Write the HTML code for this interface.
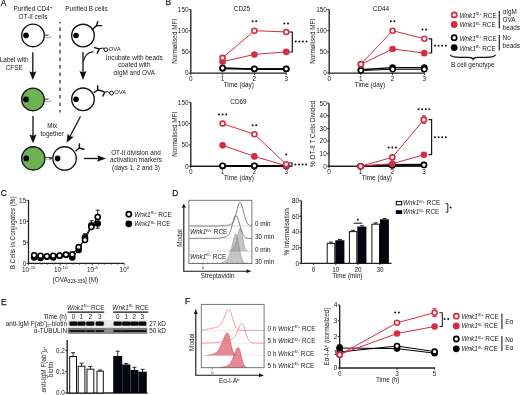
<!DOCTYPE html>
<html><head><meta charset="utf-8"><style>
html,body{margin:0;padding:0;background:#fff;}
svg{display:block;font-family:"Liberation Sans",sans-serif;will-change:transform;}
</style></head><body>
<svg width="520" height="395" viewBox="0 0 520 395">
<rect width="520" height="395" fill="#fff"/>
<text x="0.70" y="5.50" font-size="8.4" text-anchor="start" fill="#1a1a1a" stroke="#1a1a1a" stroke-width="0.25">A</text>
<text x="33" y="11.2" font-size="6.4" text-anchor="middle" fill="#1a1a1a">Purified CD4<tspan font-size="4.6" dy="-2.4">+</tspan></text>
<text x="33.00" y="18.80" font-size="6.4" text-anchor="middle" fill="#1a1a1a" >OT-II cells</text>
<text x="86.50" y="11.20" font-size="6.4" text-anchor="middle" fill="#1a1a1a" >Purified B cells</text>
<line x1="60.00" y1="22.00" x2="60.00" y2="112.60" stroke="#444" stroke-width="1.4" stroke-dasharray="3.6,3.9" stroke-dashoffset="2.0"/>
<circle cx="33.00" cy="35.40" r="11.30" fill="#fff" stroke="#111" stroke-width="1.35"/>
<circle cx="26.00" cy="35.40" r="2.80" fill="#000" stroke="none" stroke-width="1"/>
<line x1="44.40" y1="35.20" x2="48.60" y2="35.20" stroke="#111" stroke-width="0.9" />
<path d="M45.20,37.60 Q48.50,38.40 51.60,36.70" fill="none" stroke="#888" stroke-width="0.8" />
<circle cx="83.00" cy="35.50" r="11.30" fill="#fff" stroke="#111" stroke-width="1.35"/>
<circle cx="76.00" cy="35.50" r="2.80" fill="#000" stroke="none" stroke-width="1"/>
<polyline points="93.10,28.70 96.60,25.60 97.70,21.60" fill="none" stroke="#111" stroke-width="1.45" stroke-linejoin="round" stroke-linecap="round"/>
<polyline points="96.60,25.60 101.70,25.60" fill="none" stroke="#111" stroke-width="1.45" stroke-linejoin="round" stroke-linecap="round"/>
<polyline points="94.60,47.60 99.20,48.90 97.20,53.30" fill="none" stroke="#111" stroke-width="1.45" stroke-linejoin="round" stroke-linecap="round"/>
<polyline points="99.20,48.90 103.20,47.90 104.00,48.80" fill="none" stroke="#111" stroke-width="1.0" stroke-linejoin="round" stroke-linecap="round"/>
<circle cx="105.90" cy="49.70" r="1.90" fill="#fff" stroke="#111" stroke-width="1.0"/>
<text x="108.70" y="50.60" font-size="5.8" text-anchor="start" fill="#1a1a1a" >OVA</text>
<path d="M93.3,51.6 Q84.6,53.0 83.4,61.5" fill="none" stroke="#111" stroke-width="1.2" />
<line x1="32.80" y1="52.30" x2="32.80" y2="73.20" stroke="#111" stroke-width="1.3" />
<path d="M29.25,71.20 Q32.80,73.40 36.35,71.20 L32.80,80.00 Z" fill="#111" stroke="none" stroke-width="1" />
<line x1="83.00" y1="52.10" x2="83.00" y2="73.10" stroke="#111" stroke-width="1.3" />
<path d="M79.45,71.10 Q83.00,73.30 86.55,71.10 L83.00,79.90 Z" fill="#111" stroke="none" stroke-width="1" />
<text x="14.20" y="62.40" font-size="6.4" text-anchor="middle" fill="#1a1a1a" >Label with</text>
<text x="14.20" y="70.40" font-size="6.4" text-anchor="middle" fill="#1a1a1a" >CFSE</text>
<text x="134.30" y="59.50" font-size="6.4" text-anchor="middle" fill="#1a1a1a" >Incubate with beads</text>
<text x="134.30" y="67.00" font-size="6.4" text-anchor="middle" fill="#1a1a1a" >coated with</text>
<text x="134.30" y="74.90" font-size="6.4" text-anchor="middle" fill="#1a1a1a" >αIgM and OVA</text>
<circle cx="33.00" cy="99.40" r="11.30" fill="#6cb152" stroke="#111" stroke-width="1.35"/>
<circle cx="26.00" cy="99.40" r="2.80" fill="#000" stroke="none" stroke-width="1"/>
<line x1="44.40" y1="99.20" x2="48.60" y2="99.20" stroke="#111" stroke-width="0.9" />
<path d="M45.20,101.60 Q48.50,102.40 51.60,100.70" fill="none" stroke="#888" stroke-width="0.8" />
<circle cx="83.00" cy="99.30" r="11.30" fill="#fff" stroke="#111" stroke-width="1.35"/>
<circle cx="76.00" cy="99.30" r="2.80" fill="#000" stroke="none" stroke-width="1"/>
<polyline points="94.20,92.30 97.70,90.00 97.70,85.80" fill="none" stroke="#111" stroke-width="1.45" stroke-linejoin="round" stroke-linecap="round"/>
<polyline points="97.70,90.00 102.30,91.00 104.60,92.30 103.00,96.00" fill="none" stroke="#111" stroke-width="1.45" stroke-linejoin="round" stroke-linecap="round"/>
<polyline points="104.60,92.30 107.40,91.60 109.60,92.80" fill="none" stroke="#111" stroke-width="1.0" stroke-linejoin="round" stroke-linecap="round"/>
<circle cx="111.50" cy="93.10" r="1.90" fill="#fff" stroke="#111" stroke-width="1.0"/>
<text x="114.20" y="94.30" font-size="5.8" text-anchor="start" fill="#1a1a1a" >OVA</text>
<line x1="33.00" y1="116.00" x2="33.00" y2="136.40" stroke="#111" stroke-width="1.3" />
<path d="M29.45,134.40 Q33.00,136.60 36.55,134.40 L33.00,143.20 Z" fill="#111" stroke="none" stroke-width="1" />
<line x1="80.50" y1="116.50" x2="69.78" y2="136.79" stroke="#111" stroke-width="1.25" />
<path d="M67.62,133.38 Q69.68,136.96 73.81,136.66 L66.60,142.80 Z" fill="#111" stroke="none" stroke-width="1" />
<text x="52.30" y="128.40" font-size="6.4" text-anchor="middle" fill="#1a1a1a" >Mix</text>
<text x="52.30" y="136.40" font-size="6.4" text-anchor="middle" fill="#1a1a1a" >together</text>
<circle cx="33.30" cy="158.40" r="11.60" fill="#6cb152" stroke="#111" stroke-width="1.35"/>
<circle cx="26.30" cy="158.40" r="2.80" fill="#000" stroke="none" stroke-width="1"/>
<circle cx="64.60" cy="158.40" r="11.70" fill="#fff" stroke="#111" stroke-width="1.35"/>
<circle cx="57.60" cy="158.40" r="2.80" fill="#000" stroke="none" stroke-width="1"/>
<line x1="44.80" y1="157.40" x2="53.00" y2="157.40" stroke="#333" stroke-width="0.9" />
<line x1="45.00" y1="159.20" x2="53.00" y2="159.20" stroke="#999" stroke-width="0.7" />
<circle cx="50.60" cy="158.20" r="1.20" fill="#444" stroke="none" stroke-width="1"/>
<polyline points="76.00,150.80 79.20,148.00 79.50,144.00" fill="none" stroke="#111" stroke-width="1.45" stroke-linejoin="round" stroke-linecap="round"/>
<polyline points="79.20,148.00 83.80,149.20" fill="none" stroke="#111" stroke-width="1.45" stroke-linejoin="round" stroke-linecap="round"/>
<line x1="83.80" y1="158.50" x2="99.00" y2="158.50" stroke="#111" stroke-width="1.3" />
<path d="M97.00,155.30 Q99.20,158.50 97.00,161.70 L106.00,158.50 Z" fill="#111" stroke="none" stroke-width="1" />
<text x="136.00" y="154.90" font-size="6.4" text-anchor="middle" fill="#1a1a1a" >OT-II division and</text>
<text x="136.00" y="162.40" font-size="6.4" text-anchor="middle" fill="#1a1a1a" >activation markers</text>
<text x="136.00" y="170.10" font-size="6.4" text-anchor="middle" fill="#1a1a1a" >(days 1, 2 and 3)</text>
<text x="165.60" y="5.20" font-size="8.4" text-anchor="start" fill="#1a1a1a" stroke="#1a1a1a" stroke-width="0.25">B</text>
<line x1="190.80" y1="73.10" x2="190.80" y2="9.50" stroke="#222" stroke-width="1.35" />
<line x1="188.80" y1="73.10" x2="190.80" y2="73.10" stroke="#222" stroke-width="0.9" />
<text x="188.50" y="75.40" font-size="6.4" text-anchor="end" fill="#1a1a1a" >0</text>
<line x1="188.80" y1="51.90" x2="190.80" y2="51.90" stroke="#222" stroke-width="0.9" />
<text x="188.50" y="54.20" font-size="6.4" text-anchor="end" fill="#1a1a1a" >50</text>
<line x1="188.80" y1="30.70" x2="190.80" y2="30.70" stroke="#222" stroke-width="0.9" />
<text x="188.50" y="33.00" font-size="6.4" text-anchor="end" fill="#1a1a1a" >100</text>
<line x1="188.80" y1="9.50" x2="190.80" y2="9.50" stroke="#222" stroke-width="0.9" />
<text x="188.50" y="11.80" font-size="6.4" text-anchor="end" fill="#1a1a1a" >150</text>
<line x1="190.20" y1="73.10" x2="286.70" y2="73.10" stroke="#222" stroke-width="1.35" />
<line x1="190.80" y1="73.10" x2="190.80" y2="75.10" stroke="#222" stroke-width="0.9" />
<text x="190.80" y="80.80" font-size="6.4" text-anchor="middle" fill="#1a1a1a" >0</text>
<line x1="222.60" y1="73.10" x2="222.60" y2="75.10" stroke="#222" stroke-width="0.9" />
<text x="222.60" y="80.80" font-size="6.4" text-anchor="middle" fill="#1a1a1a" >1</text>
<line x1="254.40" y1="73.10" x2="254.40" y2="75.10" stroke="#222" stroke-width="0.9" />
<text x="254.40" y="80.80" font-size="6.4" text-anchor="middle" fill="#1a1a1a" >2</text>
<line x1="286.20" y1="73.10" x2="286.20" y2="75.10" stroke="#222" stroke-width="0.9" />
<text x="286.20" y="80.80" font-size="6.4" text-anchor="middle" fill="#1a1a1a" >3</text>
<text x="242.00" y="11.00" font-size="6.4" text-anchor="middle" fill="#1a1a1a" >CD25</text>
<text x="238.80" y="86.90" font-size="6.4" text-anchor="middle" fill="#1a1a1a" >Time (day)</text>
<text transform="translate(176.80,41.30) rotate(-90)" x="0" y="0" font-size="6.4" text-anchor="middle" fill="#1a1a1a">Normalised MFI</text>
<polyline points="222.60,68.44 254.40,69.07 286.20,69.07" fill="none" stroke="#000" stroke-width="1.8" stroke-linejoin="round" />
<polyline points="222.60,68.01 254.40,68.86 286.20,68.86" fill="none" stroke="#000" stroke-width="1.0" stroke-linejoin="round" />
<polyline points="222.60,61.65 254.40,54.44 286.20,51.90" fill="none" stroke="#d52c44" stroke-width="1.0" stroke-linejoin="round" />
<polyline points="222.60,57.84 254.40,30.70 286.20,31.97" fill="none" stroke="#d52c44" stroke-width="1.0" stroke-linejoin="round" />
<circle cx="222.60" cy="68.44" r="3.30" fill="#000" stroke="none" stroke-width="1"/>
<circle cx="254.40" cy="69.07" r="3.30" fill="#000" stroke="none" stroke-width="1"/>
<circle cx="286.20" cy="69.07" r="3.30" fill="#000" stroke="none" stroke-width="1"/>
<circle cx="222.60" cy="68.01" r="2.50" fill="#fff" stroke="#000" stroke-width="1.6"/>
<circle cx="254.40" cy="68.86" r="2.50" fill="#fff" stroke="#000" stroke-width="1.6"/>
<circle cx="286.20" cy="68.86" r="2.50" fill="#fff" stroke="#000" stroke-width="1.6"/>
<circle cx="222.60" cy="61.65" r="3.30" fill="#d52c44" stroke="none" stroke-width="1"/>
<circle cx="254.40" cy="54.44" r="3.30" fill="#d52c44" stroke="none" stroke-width="1"/>
<circle cx="286.20" cy="51.90" r="3.30" fill="#d52c44" stroke="none" stroke-width="1"/>
<circle cx="222.60" cy="57.84" r="2.50" fill="#fff" stroke="#d52c44" stroke-width="1.6"/>
<circle cx="254.40" cy="30.70" r="2.50" fill="#fff" stroke="#d52c44" stroke-width="1.6"/>
<circle cx="286.20" cy="31.97" r="2.50" fill="#fff" stroke="#d52c44" stroke-width="1.6"/>
<circle cx="252.60" cy="21.20" r="1.00" fill="#111" stroke="none" stroke-width="1"/>
<circle cx="256.20" cy="21.20" r="1.00" fill="#111" stroke="none" stroke-width="1"/>
<circle cx="284.40" cy="23.60" r="1.00" fill="#111" stroke="none" stroke-width="1"/>
<circle cx="288.00" cy="23.60" r="1.00" fill="#111" stroke="none" stroke-width="1"/>
<path d="M289.30,32.00 H292.30 V52.00 H289.30" fill="none" stroke="#151515" stroke-width="1.2" />
<circle cx="295.70" cy="41.60" r="1.00" fill="#111" stroke="none" stroke-width="1"/>
<circle cx="299.30" cy="41.60" r="1.00" fill="#111" stroke="none" stroke-width="1"/>
<circle cx="302.90" cy="41.60" r="1.00" fill="#111" stroke="none" stroke-width="1"/>
<circle cx="306.50" cy="41.60" r="1.00" fill="#111" stroke="none" stroke-width="1"/>
<line x1="329.20" y1="73.10" x2="329.20" y2="9.50" stroke="#222" stroke-width="1.35" />
<line x1="327.20" y1="73.10" x2="329.20" y2="73.10" stroke="#222" stroke-width="0.9" />
<text x="326.90" y="75.40" font-size="6.4" text-anchor="end" fill="#1a1a1a" >0</text>
<line x1="327.20" y1="51.90" x2="329.20" y2="51.90" stroke="#222" stroke-width="0.9" />
<text x="326.90" y="54.20" font-size="6.4" text-anchor="end" fill="#1a1a1a" >50</text>
<line x1="327.20" y1="30.70" x2="329.20" y2="30.70" stroke="#222" stroke-width="0.9" />
<text x="326.90" y="33.00" font-size="6.4" text-anchor="end" fill="#1a1a1a" >100</text>
<line x1="327.20" y1="9.50" x2="329.20" y2="9.50" stroke="#222" stroke-width="0.9" />
<text x="326.90" y="11.80" font-size="6.4" text-anchor="end" fill="#1a1a1a" >150</text>
<line x1="328.60" y1="73.10" x2="424.80" y2="73.10" stroke="#222" stroke-width="1.35" />
<line x1="329.20" y1="73.10" x2="329.20" y2="75.10" stroke="#222" stroke-width="0.9" />
<text x="329.20" y="80.80" font-size="6.4" text-anchor="middle" fill="#1a1a1a" >0</text>
<line x1="360.90" y1="73.10" x2="360.90" y2="75.10" stroke="#222" stroke-width="0.9" />
<text x="360.90" y="80.80" font-size="6.4" text-anchor="middle" fill="#1a1a1a" >1</text>
<line x1="392.60" y1="73.10" x2="392.60" y2="75.10" stroke="#222" stroke-width="0.9" />
<text x="392.60" y="80.80" font-size="6.4" text-anchor="middle" fill="#1a1a1a" >2</text>
<line x1="424.30" y1="73.10" x2="424.30" y2="75.10" stroke="#222" stroke-width="0.9" />
<text x="424.30" y="80.80" font-size="6.4" text-anchor="middle" fill="#1a1a1a" >3</text>
<text x="381.00" y="11.00" font-size="6.4" text-anchor="middle" fill="#1a1a1a" >CD44</text>
<text x="369.90" y="86.90" font-size="6.4" text-anchor="middle" fill="#1a1a1a" >Time (day)</text>
<text transform="translate(314.60,41.30) rotate(-90)" x="0" y="0" font-size="6.4" text-anchor="middle" fill="#1a1a1a">Normalised MFI</text>
<polyline points="360.90,69.71 392.60,67.59 424.30,67.59" fill="none" stroke="#000" stroke-width="1.4" stroke-linejoin="round" />
<polyline points="360.90,70.56 392.60,69.28 424.30,69.28" fill="none" stroke="#000" stroke-width="1.0" stroke-linejoin="round" />
<polyline points="360.90,64.41 392.60,48.93 424.30,53.17" fill="none" stroke="#d52c44" stroke-width="1.0" stroke-linejoin="round" />
<polyline points="360.90,64.20 392.60,30.70 424.30,38.76" fill="none" stroke="#d52c44" stroke-width="1.0" stroke-linejoin="round" />
<circle cx="360.90" cy="69.71" r="3.30" fill="#000" stroke="none" stroke-width="1"/>
<circle cx="392.60" cy="67.59" r="3.30" fill="#000" stroke="none" stroke-width="1"/>
<circle cx="424.30" cy="67.59" r="3.30" fill="#000" stroke="none" stroke-width="1"/>
<circle cx="360.90" cy="70.56" r="2.50" fill="#fff" stroke="#000" stroke-width="1.6"/>
<circle cx="392.60" cy="69.28" r="2.50" fill="#fff" stroke="#000" stroke-width="1.6"/>
<circle cx="424.30" cy="69.28" r="2.50" fill="#fff" stroke="#000" stroke-width="1.6"/>
<circle cx="360.90" cy="64.41" r="3.30" fill="#d52c44" stroke="none" stroke-width="1"/>
<circle cx="392.60" cy="48.93" r="3.30" fill="#d52c44" stroke="none" stroke-width="1"/>
<circle cx="424.30" cy="53.17" r="3.30" fill="#d52c44" stroke="none" stroke-width="1"/>
<circle cx="360.90" cy="64.20" r="2.50" fill="#fff" stroke="#d52c44" stroke-width="1.6"/>
<circle cx="392.60" cy="30.70" r="2.50" fill="#fff" stroke="#d52c44" stroke-width="1.6"/>
<circle cx="424.30" cy="38.76" r="2.50" fill="#fff" stroke="#d52c44" stroke-width="1.6"/>
<circle cx="390.80" cy="21.20" r="1.00" fill="#111" stroke="none" stroke-width="1"/>
<circle cx="394.40" cy="21.20" r="1.00" fill="#111" stroke="none" stroke-width="1"/>
<circle cx="422.50" cy="29.40" r="1.00" fill="#111" stroke="none" stroke-width="1"/>
<circle cx="426.10" cy="29.40" r="1.00" fill="#111" stroke="none" stroke-width="1"/>
<path d="M428.60,38.80 H431.60 V53.00 H428.60" fill="none" stroke="#151515" stroke-width="1.2" />
<circle cx="435.00" cy="45.80" r="1.00" fill="#111" stroke="none" stroke-width="1"/>
<circle cx="438.60" cy="45.80" r="1.00" fill="#111" stroke="none" stroke-width="1"/>
<circle cx="442.20" cy="45.80" r="1.00" fill="#111" stroke="none" stroke-width="1"/>
<circle cx="445.80" cy="45.80" r="1.00" fill="#111" stroke="none" stroke-width="1"/>
<line x1="190.80" y1="166.20" x2="190.80" y2="102.30" stroke="#222" stroke-width="1.35" />
<line x1="188.80" y1="166.20" x2="190.80" y2="166.20" stroke="#222" stroke-width="0.9" />
<text x="188.50" y="168.50" font-size="6.4" text-anchor="end" fill="#1a1a1a" >0</text>
<line x1="188.80" y1="144.90" x2="190.80" y2="144.90" stroke="#222" stroke-width="0.9" />
<text x="188.50" y="147.20" font-size="6.4" text-anchor="end" fill="#1a1a1a" >50</text>
<line x1="188.80" y1="123.60" x2="190.80" y2="123.60" stroke="#222" stroke-width="0.9" />
<text x="188.50" y="125.90" font-size="6.4" text-anchor="end" fill="#1a1a1a" >100</text>
<line x1="188.80" y1="102.30" x2="190.80" y2="102.30" stroke="#222" stroke-width="0.9" />
<text x="188.50" y="104.60" font-size="6.4" text-anchor="end" fill="#1a1a1a" >150</text>
<line x1="190.20" y1="166.20" x2="286.70" y2="166.20" stroke="#222" stroke-width="1.35" />
<line x1="190.80" y1="166.20" x2="190.80" y2="168.20" stroke="#222" stroke-width="0.9" />
<text x="190.80" y="173.90" font-size="6.4" text-anchor="middle" fill="#1a1a1a" >0</text>
<line x1="222.60" y1="166.20" x2="222.60" y2="168.20" stroke="#222" stroke-width="0.9" />
<text x="222.60" y="173.90" font-size="6.4" text-anchor="middle" fill="#1a1a1a" >1</text>
<line x1="254.40" y1="166.20" x2="254.40" y2="168.20" stroke="#222" stroke-width="0.9" />
<text x="254.40" y="173.90" font-size="6.4" text-anchor="middle" fill="#1a1a1a" >2</text>
<line x1="286.20" y1="166.20" x2="286.20" y2="168.20" stroke="#222" stroke-width="0.9" />
<text x="286.20" y="173.90" font-size="6.4" text-anchor="middle" fill="#1a1a1a" >3</text>
<text x="238.50" y="104.00" font-size="6.4" text-anchor="middle" fill="#1a1a1a" >CD69</text>
<text x="238.80" y="180.00" font-size="6.4" text-anchor="middle" fill="#1a1a1a" >Time (day)</text>
<text transform="translate(176.80,134.25) rotate(-90)" x="0" y="0" font-size="6.4" text-anchor="middle" fill="#1a1a1a">Normalised MFI</text>
<polyline points="222.60,165.99 254.40,165.99 286.20,166.07" fill="none" stroke="#000" stroke-width="1.8" stroke-linejoin="round" />
<polyline points="222.60,165.77 254.40,165.77 286.20,165.99" fill="none" stroke="#000" stroke-width="1.0" stroke-linejoin="round" />
<polyline points="222.60,145.33 254.40,156.40 286.20,165.77" fill="none" stroke="#d52c44" stroke-width="1.0" stroke-linejoin="round" />
<polyline points="222.60,123.60 254.40,134.25 286.20,164.28" fill="none" stroke="#d52c44" stroke-width="1.0" stroke-linejoin="round" />
<circle cx="222.60" cy="165.99" r="3.30" fill="#000" stroke="none" stroke-width="1"/>
<circle cx="254.40" cy="165.99" r="3.30" fill="#000" stroke="none" stroke-width="1"/>
<circle cx="286.20" cy="166.07" r="3.30" fill="#000" stroke="none" stroke-width="1"/>
<circle cx="222.60" cy="165.77" r="2.50" fill="#fff" stroke="#000" stroke-width="1.6"/>
<circle cx="254.40" cy="165.77" r="2.50" fill="#fff" stroke="#000" stroke-width="1.6"/>
<circle cx="286.20" cy="165.99" r="2.50" fill="#fff" stroke="#000" stroke-width="1.6"/>
<circle cx="222.60" cy="145.33" r="3.30" fill="#d52c44" stroke="none" stroke-width="1"/>
<circle cx="254.40" cy="156.40" r="3.30" fill="#d52c44" stroke="none" stroke-width="1"/>
<circle cx="286.20" cy="165.77" r="3.30" fill="#d52c44" stroke="none" stroke-width="1"/>
<circle cx="222.60" cy="123.60" r="2.50" fill="#fff" stroke="#d52c44" stroke-width="1.6"/>
<circle cx="254.40" cy="134.25" r="2.50" fill="#fff" stroke="#d52c44" stroke-width="1.6"/>
<circle cx="286.20" cy="164.28" r="2.50" fill="#fff" stroke="#d52c44" stroke-width="1.6"/>
<circle cx="219.00" cy="114.40" r="1.00" fill="#111" stroke="none" stroke-width="1"/>
<circle cx="222.60" cy="114.40" r="1.00" fill="#111" stroke="none" stroke-width="1"/>
<circle cx="226.20" cy="114.40" r="1.00" fill="#111" stroke="none" stroke-width="1"/>
<circle cx="252.60" cy="125.20" r="1.00" fill="#111" stroke="none" stroke-width="1"/>
<circle cx="256.20" cy="125.20" r="1.00" fill="#111" stroke="none" stroke-width="1"/>
<circle cx="286.20" cy="154.50" r="1.00" fill="#111" stroke="none" stroke-width="1"/>
<path d="M289.00,163.00 H292.00 V166.20 H289.00" fill="none" stroke="#151515" stroke-width="1.2" />
<circle cx="295.40" cy="164.60" r="1.00" fill="#111" stroke="none" stroke-width="1"/>
<circle cx="299.00" cy="164.60" r="1.00" fill="#111" stroke="none" stroke-width="1"/>
<circle cx="302.60" cy="164.60" r="1.00" fill="#111" stroke="none" stroke-width="1"/>
<circle cx="306.20" cy="164.60" r="1.00" fill="#111" stroke="none" stroke-width="1"/>
<line x1="329.00" y1="166.20" x2="329.00" y2="103.20" stroke="#222" stroke-width="1.35" />
<line x1="327.00" y1="166.20" x2="329.00" y2="166.20" stroke="#222" stroke-width="0.9" />
<text x="326.70" y="168.50" font-size="6.4" text-anchor="end" fill="#1a1a1a" >0</text>
<line x1="327.00" y1="153.60" x2="329.00" y2="153.60" stroke="#222" stroke-width="0.9" />
<text x="326.70" y="155.90" font-size="6.4" text-anchor="end" fill="#1a1a1a" >10</text>
<line x1="327.00" y1="141.00" x2="329.00" y2="141.00" stroke="#222" stroke-width="0.9" />
<text x="326.70" y="143.30" font-size="6.4" text-anchor="end" fill="#1a1a1a" >20</text>
<line x1="327.00" y1="128.40" x2="329.00" y2="128.40" stroke="#222" stroke-width="0.9" />
<text x="326.70" y="130.70" font-size="6.4" text-anchor="end" fill="#1a1a1a" >30</text>
<line x1="327.00" y1="115.80" x2="329.00" y2="115.80" stroke="#222" stroke-width="0.9" />
<text x="326.70" y="118.10" font-size="6.4" text-anchor="end" fill="#1a1a1a" >40</text>
<line x1="327.00" y1="103.20" x2="329.00" y2="103.20" stroke="#222" stroke-width="0.9" />
<text x="326.70" y="105.50" font-size="6.4" text-anchor="end" fill="#1a1a1a" >50</text>
<line x1="328.40" y1="166.20" x2="424.45" y2="166.20" stroke="#222" stroke-width="1.35" />
<line x1="329.00" y1="166.20" x2="329.00" y2="168.20" stroke="#222" stroke-width="0.9" />
<text x="329.00" y="173.90" font-size="6.4" text-anchor="middle" fill="#1a1a1a" >0</text>
<line x1="360.65" y1="166.20" x2="360.65" y2="168.20" stroke="#222" stroke-width="0.9" />
<text x="360.65" y="173.90" font-size="6.4" text-anchor="middle" fill="#1a1a1a" >1</text>
<line x1="392.30" y1="166.20" x2="392.30" y2="168.20" stroke="#222" stroke-width="0.9" />
<text x="392.30" y="173.90" font-size="6.4" text-anchor="middle" fill="#1a1a1a" >2</text>
<line x1="423.95" y1="166.20" x2="423.95" y2="168.20" stroke="#222" stroke-width="0.9" />
<text x="423.95" y="173.90" font-size="6.4" text-anchor="middle" fill="#1a1a1a" >3</text>
<text x="0.00" y="0.60" font-size="6.4" text-anchor="middle" fill="#1a1a1a" ></text>
<text x="376.85" y="180.00" font-size="6.4" text-anchor="middle" fill="#1a1a1a" >Time (day)</text>
<text transform="translate(315.40,133.80) rotate(-90)" x="0" y="0" font-size="6.4" text-anchor="middle" fill="#1a1a1a">% OT-II T Cells Divided</text>
<polyline points="360.65,166.20 392.30,164.94 423.95,164.69" fill="none" stroke="#000" stroke-width="1.8" stroke-linejoin="round" />
<polyline points="360.65,166.20 392.30,165.44 423.95,164.94" fill="none" stroke="#000" stroke-width="1.0" stroke-linejoin="round" />
<polyline points="360.65,166.20 392.30,163.68 423.95,154.86" fill="none" stroke="#d52c44" stroke-width="1.0" stroke-linejoin="round" />
<polyline points="360.65,166.20 392.30,157.38 423.95,119.58" fill="none" stroke="#d52c44" stroke-width="1.0" stroke-linejoin="round" />
<circle cx="360.65" cy="166.20" r="3.30" fill="#000" stroke="none" stroke-width="1"/>
<circle cx="392.30" cy="164.94" r="3.30" fill="#000" stroke="none" stroke-width="1"/>
<circle cx="423.95" cy="164.69" r="3.30" fill="#000" stroke="none" stroke-width="1"/>
<circle cx="360.65" cy="166.20" r="2.50" fill="#fff" stroke="#000" stroke-width="1.6"/>
<circle cx="392.30" cy="165.44" r="2.50" fill="#fff" stroke="#000" stroke-width="1.6"/>
<circle cx="423.95" cy="164.94" r="2.50" fill="#fff" stroke="#000" stroke-width="1.6"/>
<circle cx="360.65" cy="166.20" r="3.30" fill="#d52c44" stroke="none" stroke-width="1"/>
<circle cx="392.30" cy="163.68" r="3.30" fill="#d52c44" stroke="none" stroke-width="1"/>
<circle cx="423.95" cy="154.86" r="3.30" fill="#d52c44" stroke="none" stroke-width="1"/>
<circle cx="360.65" cy="166.20" r="2.50" fill="#fff" stroke="#d52c44" stroke-width="1.6"/>
<circle cx="392.30" cy="157.38" r="2.50" fill="#fff" stroke="#d52c44" stroke-width="1.6"/>
<circle cx="423.95" cy="119.58" r="2.50" fill="#fff" stroke="#d52c44" stroke-width="1.6"/>
<circle cx="388.70" cy="147.60" r="1.00" fill="#111" stroke="none" stroke-width="1"/>
<circle cx="392.30" cy="147.60" r="1.00" fill="#111" stroke="none" stroke-width="1"/>
<circle cx="395.90" cy="147.60" r="1.00" fill="#111" stroke="none" stroke-width="1"/>
<circle cx="418.55" cy="109.20" r="1.00" fill="#111" stroke="none" stroke-width="1"/>
<circle cx="422.15" cy="109.20" r="1.00" fill="#111" stroke="none" stroke-width="1"/>
<circle cx="425.75" cy="109.20" r="1.00" fill="#111" stroke="none" stroke-width="1"/>
<circle cx="429.35" cy="109.20" r="1.00" fill="#111" stroke="none" stroke-width="1"/>
<path d="M428.60,119.70 H431.60 V154.60 H428.60" fill="none" stroke="#151515" stroke-width="1.2" />
<circle cx="435.00" cy="137.20" r="1.00" fill="#111" stroke="none" stroke-width="1"/>
<circle cx="438.60" cy="137.20" r="1.00" fill="#111" stroke="none" stroke-width="1"/>
<circle cx="442.20" cy="137.20" r="1.00" fill="#111" stroke="none" stroke-width="1"/>
<circle cx="445.80" cy="137.20" r="1.00" fill="#111" stroke="none" stroke-width="1"/>
<line x1="423.80" y1="115.80" x2="423.80" y2="123.60" stroke="#d52c44" stroke-width="0.9" />
<line x1="421.80" y1="115.80" x2="425.80" y2="115.80" stroke="#d52c44" stroke-width="1.0" />
<line x1="421.80" y1="123.60" x2="425.80" y2="123.60" stroke="#d52c44" stroke-width="1.0" />
<circle cx="423.80" cy="119.70" r="2.50" fill="#fff" stroke="#d52c44" stroke-width="1.6"/>
<circle cx="454.20" cy="14.90" r="2.55" fill="#fff" stroke="#d52c44" stroke-width="1.7"/>
<text x="459.40" y="17.80" font-size="6.4" text-anchor="start" fill="#1a1a1a"><tspan font-style="italic">Wnk1</tspan><tspan font-size="4.22" dy="-2.4">fl/+</tspan><tspan dy="2.4"> RCE</tspan></text>
<circle cx="454.20" cy="24.50" r="3.40" fill="#d52c44" stroke="none" stroke-width="1"/>
<text x="459.40" y="27.40" font-size="6.4" text-anchor="start" fill="#1a1a1a"><tspan font-style="italic">Wnk1</tspan><tspan font-size="4.22" dy="-2.4">fl/-</tspan><tspan dy="2.4"> RCE</tspan></text>
<circle cx="454.20" cy="37.70" r="2.55" fill="#fff" stroke="#000" stroke-width="1.7"/>
<text x="459.40" y="40.60" font-size="6.4" text-anchor="start" fill="#1a1a1a"><tspan font-style="italic">Wnk1</tspan><tspan font-size="4.22" dy="-2.4">fl/+</tspan><tspan dy="2.4"> RCE</tspan></text>
<circle cx="454.20" cy="47.60" r="3.40" fill="#000" stroke="none" stroke-width="1"/>
<text x="459.40" y="50.50" font-size="6.4" text-anchor="start" fill="#1a1a1a"><tspan font-style="italic">Wnk1</tspan><tspan font-size="4.22" dy="-2.4">fl/-</tspan><tspan dy="2.4"> RCE</tspan></text>
<line x1="499.30" y1="11.00" x2="499.30" y2="28.20" stroke="#222" stroke-width="1.2" />
<line x1="499.30" y1="35.00" x2="499.30" y2="50.60" stroke="#222" stroke-width="1.2" />
<text x="502.60" y="13.80" font-size="6.4" text-anchor="start" fill="#1a1a1a" >αIgM</text>
<text x="502.60" y="21.50" font-size="6.4" text-anchor="start" fill="#1a1a1a" >OVA</text>
<text x="502.60" y="29.60" font-size="6.4" text-anchor="start" fill="#1a1a1a" >beads</text>
<text x="502.60" y="40.00" font-size="6.4" text-anchor="start" fill="#1a1a1a" >No</text>
<text x="502.60" y="48.00" font-size="6.4" text-anchor="start" fill="#1a1a1a" >beads</text>
<path d="M450.3,54.8 Q451.5,57.4 460,57.4 L468.5,57.4 Q472.2,57.5 473,59.2 Q473.8,57.5 477.5,57.4 L486,57.4 Q494.5,57.4 495.6,54.8" fill="none" stroke="#111" stroke-width="1.25" />
<text x="472.80" y="66.50" font-size="6.4" text-anchor="middle" fill="#1a1a1a" >B cell genotype</text>
<text x="0.80" y="195.80" font-size="8.4" text-anchor="start" fill="#1a1a1a" stroke="#1a1a1a" stroke-width="0.25">C</text>
<line x1="28.50" y1="263.40" x2="28.50" y2="200.00" stroke="#222" stroke-width="1.3" />
<line x1="26.50" y1="263.40" x2="28.50" y2="263.40" stroke="#222" stroke-width="0.9" />
<text x="26.20" y="265.70" font-size="6.4" text-anchor="end" fill="#1a1a1a" >0</text>
<line x1="26.50" y1="242.37" x2="28.50" y2="242.37" stroke="#222" stroke-width="0.9" />
<text x="26.20" y="244.67" font-size="6.4" text-anchor="end" fill="#1a1a1a" >5</text>
<line x1="26.50" y1="221.33" x2="28.50" y2="221.33" stroke="#222" stroke-width="0.9" />
<text x="26.20" y="223.63" font-size="6.4" text-anchor="end" fill="#1a1a1a" >10</text>
<line x1="26.50" y1="200.30" x2="28.50" y2="200.30" stroke="#222" stroke-width="0.9" />
<text x="26.20" y="202.60" font-size="6.4" text-anchor="end" fill="#1a1a1a" >15</text>
<line x1="27.90" y1="263.40" x2="124.30" y2="263.40" stroke="#222" stroke-width="1.3" />
<line x1="28.50" y1="263.40" x2="28.50" y2="265.40" stroke="#222" stroke-width="0.8" />
<line x1="34.87" y1="263.40" x2="34.87" y2="264.70" stroke="#222" stroke-width="0.8" />
<line x1="41.25" y1="263.40" x2="41.25" y2="264.70" stroke="#222" stroke-width="0.8" />
<line x1="47.62" y1="263.40" x2="47.62" y2="264.70" stroke="#222" stroke-width="0.8" />
<line x1="53.99" y1="263.40" x2="53.99" y2="264.70" stroke="#222" stroke-width="0.8" />
<line x1="60.37" y1="263.40" x2="60.37" y2="265.40" stroke="#222" stroke-width="0.8" />
<line x1="66.74" y1="263.40" x2="66.74" y2="264.70" stroke="#222" stroke-width="0.8" />
<line x1="73.11" y1="263.40" x2="73.11" y2="264.70" stroke="#222" stroke-width="0.8" />
<line x1="79.49" y1="263.40" x2="79.49" y2="264.70" stroke="#222" stroke-width="0.8" />
<line x1="85.86" y1="263.40" x2="85.86" y2="264.70" stroke="#222" stroke-width="0.8" />
<line x1="92.23" y1="263.40" x2="92.23" y2="265.40" stroke="#222" stroke-width="0.8" />
<line x1="98.61" y1="263.40" x2="98.61" y2="264.70" stroke="#222" stroke-width="0.8" />
<line x1="104.98" y1="263.40" x2="104.98" y2="264.70" stroke="#222" stroke-width="0.8" />
<line x1="111.35" y1="263.40" x2="111.35" y2="264.70" stroke="#222" stroke-width="0.8" />
<line x1="117.73" y1="263.40" x2="117.73" y2="264.70" stroke="#222" stroke-width="0.8" />
<line x1="124.10" y1="263.40" x2="124.10" y2="265.40" stroke="#222" stroke-width="0.8" />
<text x="28.80" y="271.80" font-size="6.4" text-anchor="middle" fill="#1a1a1a">10<tspan font-size="4.4" dy="-2.4">-15</tspan></text>
<text x="60.67" y="271.80" font-size="6.4" text-anchor="middle" fill="#1a1a1a">10<tspan font-size="4.4" dy="-2.4">-10</tspan></text>
<text x="92.53" y="271.80" font-size="6.4" text-anchor="middle" fill="#1a1a1a">10<tspan font-size="4.4" dy="-2.4">-5</tspan></text>
<text x="124.40" y="271.80" font-size="6.4" text-anchor="middle" fill="#1a1a1a">10<tspan font-size="4.4" dy="-2.4">0</tspan></text>
<text x="53.0" y="281.6" font-size="6.4" fill="#1a1a1a">[OVA<tspan font-size="4.7" dy="1.8">323-339</tspan><tspan dy="-1.8">] (M)</tspan></text>
<text transform="translate(15.0,232.8) rotate(-90)" font-size="6.4" text-anchor="middle" fill="#1a1a1a">B Cells in Conjugates (%)</text>
<polyline points="34.20,257.50 40.55,258.00 46.90,256.80 53.25,257.50 59.60,256.00 65.95,255.00 72.30,257.50 78.65,250.00 85.00,237.40 91.35,225.40 97.70,223.50" fill="none" stroke="#000" stroke-width="1.0" stroke-linejoin="round" />
<polyline points="34.20,255.20 40.55,255.80 46.90,256.30 53.25,255.80 59.60,255.50 65.95,254.60 72.30,254.40 78.65,247.10 85.00,240.00 91.35,227.00 97.70,217.00" fill="none" stroke="#000" stroke-width="1.0" stroke-linejoin="round" />
<line x1="85.00" y1="233.80" x2="85.00" y2="240.00" stroke="#000" stroke-width="0.9" />
<line x1="83.00" y1="233.80" x2="87.00" y2="233.80" stroke="#000" stroke-width="0.9" />
<line x1="91.50" y1="220.80" x2="91.50" y2="226.00" stroke="#000" stroke-width="0.9" />
<line x1="89.50" y1="220.80" x2="93.50" y2="220.80" stroke="#000" stroke-width="0.9" />
<line x1="97.70" y1="210.20" x2="97.70" y2="228.20" stroke="#000" stroke-width="0.9" />
<line x1="95.70" y1="210.20" x2="99.70" y2="210.20" stroke="#000" stroke-width="0.9" />
<line x1="95.70" y1="228.20" x2="99.70" y2="228.20" stroke="#000" stroke-width="0.9" />
<circle cx="34.20" cy="257.50" r="3.30" fill="#000" stroke="none" stroke-width="1"/>
<circle cx="40.55" cy="258.00" r="3.30" fill="#000" stroke="none" stroke-width="1"/>
<circle cx="46.90" cy="256.80" r="3.30" fill="#000" stroke="none" stroke-width="1"/>
<circle cx="53.25" cy="257.50" r="3.30" fill="#000" stroke="none" stroke-width="1"/>
<circle cx="59.60" cy="256.00" r="3.30" fill="#000" stroke="none" stroke-width="1"/>
<circle cx="65.95" cy="255.00" r="3.30" fill="#000" stroke="none" stroke-width="1"/>
<circle cx="72.30" cy="257.50" r="3.30" fill="#000" stroke="none" stroke-width="1"/>
<circle cx="78.65" cy="250.00" r="3.30" fill="#000" stroke="none" stroke-width="1"/>
<circle cx="85.00" cy="237.40" r="3.30" fill="#000" stroke="none" stroke-width="1"/>
<circle cx="91.35" cy="225.40" r="3.30" fill="#000" stroke="none" stroke-width="1"/>
<circle cx="97.70" cy="223.50" r="3.30" fill="#000" stroke="none" stroke-width="1"/>
<circle cx="34.20" cy="255.20" r="2.50" fill="#fff" stroke="#000" stroke-width="1.6"/>
<circle cx="40.55" cy="255.80" r="2.50" fill="#fff" stroke="#000" stroke-width="1.6"/>
<circle cx="46.90" cy="256.30" r="2.50" fill="#fff" stroke="#000" stroke-width="1.6"/>
<circle cx="53.25" cy="255.80" r="2.50" fill="#fff" stroke="#000" stroke-width="1.6"/>
<circle cx="59.60" cy="255.50" r="2.50" fill="#fff" stroke="#000" stroke-width="1.6"/>
<circle cx="65.95" cy="254.60" r="2.50" fill="#fff" stroke="#000" stroke-width="1.6"/>
<circle cx="72.30" cy="254.40" r="2.50" fill="#fff" stroke="#000" stroke-width="1.6"/>
<circle cx="78.65" cy="247.10" r="2.50" fill="#fff" stroke="#000" stroke-width="1.6"/>
<circle cx="85.00" cy="240.00" r="2.50" fill="#fff" stroke="#000" stroke-width="1.6"/>
<circle cx="91.35" cy="227.00" r="2.50" fill="#fff" stroke="#000" stroke-width="1.6"/>
<circle cx="97.70" cy="217.00" r="2.50" fill="#fff" stroke="#000" stroke-width="1.6"/>
<circle cx="128.80" cy="214.20" r="2.55" fill="#fff" stroke="#000" stroke-width="1.7"/>
<circle cx="128.80" cy="223.80" r="3.40" fill="#000" stroke="none" stroke-width="1"/>
<text x="134.30" y="216.50" font-size="6.4" text-anchor="start" fill="#1a1a1a"><tspan font-style="italic">Wnk1</tspan><tspan font-size="4.22" dy="-2.4">fl/+</tspan><tspan dy="2.4"> RCE</tspan></text>
<text x="134.30" y="226.10" font-size="6.4" text-anchor="start" fill="#1a1a1a"><tspan font-style="italic">Wnk1</tspan><tspan font-size="4.22" dy="-2.4">fl/-</tspan><tspan dy="2.4"> RCE</tspan></text>
<text x="172.30" y="195.50" font-size="8.4" text-anchor="start" fill="#1a1a1a" stroke="#1a1a1a" stroke-width="0.25">D</text>
<line x1="189.40" y1="226.00" x2="251.50" y2="226.00" stroke="#c8c8c8" stroke-width="0.6" />
<line x1="189.40" y1="238.40" x2="251.50" y2="238.40" stroke="#c8c8c8" stroke-width="0.6" />
<line x1="189.40" y1="251.20" x2="251.50" y2="251.20" stroke="#c8c8c8" stroke-width="0.6" />
<path d="M189.40,251.20 L189.92,251.20 L190.44,251.20 L190.95,251.20 L191.47,251.20 L191.99,251.20 L192.50,251.20 L193.02,251.20 L193.54,251.20 L194.06,251.20 L194.58,251.20 L195.09,251.20 L195.61,251.20 L196.13,251.20 L196.65,251.20 L197.16,251.20 L197.68,251.20 L198.20,251.20 L198.72,251.20 L199.23,251.20 L199.75,251.20 L200.27,251.20 L200.78,251.20 L201.30,251.20 L201.82,251.20 L202.34,251.20 L202.86,251.20 L203.37,251.20 L203.89,251.20 L204.41,251.20 L204.93,251.20 L205.44,251.20 L205.96,251.20 L206.48,251.20 L207.00,251.20 L207.51,251.20 L208.03,251.20 L208.55,251.20 L209.06,251.20 L209.58,251.20 L210.10,251.20 L210.62,251.20 L211.13,251.20 L211.65,251.20 L212.17,251.20 L212.69,251.20 L213.21,251.20 L213.72,251.20 L214.24,251.20 L214.76,251.20 L215.28,251.20 L215.79,251.20 L216.31,251.20 L216.83,251.20 L217.34,251.20 L217.86,251.20 L218.38,251.20 L218.90,251.20 L219.41,251.20 L219.93,251.20 L220.45,251.20 L220.97,251.20 L221.49,251.20 L222.00,251.20 L222.52,251.20 L223.04,251.20 L223.56,251.20 L224.07,251.20 L224.59,251.20 L225.11,251.20 L225.62,251.19 L226.14,251.18 L226.66,251.17 L227.18,251.15 L227.69,251.12 L228.21,251.07 L228.73,250.99 L229.25,250.88 L229.76,250.72 L230.28,250.50 L230.80,250.21 L231.32,249.84 L231.84,249.39 L232.35,248.84 L232.87,248.21 L233.39,247.49 L233.91,246.66 L234.42,245.73 L234.94,244.64 L235.46,243.37 L235.97,241.83 L236.49,240.00 L237.01,237.97 L237.53,235.86 L238.05,233.72 L238.56,231.69 L239.08,229.93 L239.60,228.69 L240.12,228.20 L240.63,228.59 L241.15,229.85 L241.67,231.85 L242.19,234.41 L242.70,237.27 L243.22,240.15 L243.74,242.83 L244.25,245.14 L244.77,247.01 L245.29,248.44 L245.81,249.46 L246.32,250.16 L246.84,250.60 L247.36,250.87 L247.88,251.03 L248.40,251.11 L248.91,251.16 L249.43,251.18 L249.95,251.19 L250.47,251.20 L250.98,251.20 L251.50,251.20 L251.50,251.20 L189.40,251.20 Z" fill="rgba(150,150,150,0.55)" stroke="none" stroke-width="1" />
<path d="M229.25,250.88 L229.76,250.72 L230.28,250.50 L230.80,250.21 L231.32,249.84 L231.84,249.39 L232.35,248.84 L232.87,248.21 L233.39,247.49 L233.91,246.66 L234.42,245.73 L234.94,244.64 L235.46,243.37 L235.97,241.83 L236.49,240.00 L237.01,237.97 L237.53,235.86 L238.05,233.72 L238.56,231.69 L239.08,229.93 L239.60,228.69 L240.12,228.20 L240.63,228.59 L241.15,229.85 L241.67,231.85 L242.19,234.41 L242.70,237.27 L243.22,240.15 L243.74,242.83 L244.25,245.14 L244.77,247.01 L245.29,248.44 L245.81,249.46 L246.32,250.16 L246.84,250.60 L247.36,250.87" fill="none" stroke="#888" stroke-width="0.5" />
<path d="M189.40,263.40 L189.92,263.40 L190.44,263.40 L190.95,263.40 L191.47,263.40 L191.99,263.40 L192.50,263.40 L193.02,263.40 L193.54,263.40 L194.06,263.40 L194.58,263.40 L195.09,263.40 L195.61,263.40 L196.13,263.40 L196.65,263.40 L197.16,263.40 L197.68,263.40 L198.20,263.40 L198.72,263.40 L199.23,263.40 L199.75,263.40 L200.27,263.40 L200.78,263.40 L201.30,263.40 L201.82,263.40 L202.34,263.40 L202.86,263.40 L203.37,263.40 L203.89,263.40 L204.41,263.40 L204.93,263.40 L205.44,263.40 L205.96,263.40 L206.48,263.40 L207.00,263.40 L207.51,263.40 L208.03,263.40 L208.55,263.40 L209.06,263.40 L209.58,263.40 L210.10,263.40 L210.62,263.40 L211.13,263.40 L211.65,263.40 L212.17,263.40 L212.69,263.40 L213.21,263.40 L213.72,263.40 L214.24,263.40 L214.76,263.39 L215.28,263.39 L215.79,263.39 L216.31,263.38 L216.83,263.37 L217.34,263.36 L217.86,263.34 L218.38,263.31 L218.90,263.28 L219.41,263.23 L219.93,263.17 L220.45,263.09 L220.97,263.00 L221.49,262.88 L222.00,262.74 L222.52,262.57 L223.04,262.37 L223.56,262.14 L224.07,261.87 L224.59,261.57 L225.11,261.22 L225.62,260.82 L226.14,260.35 L226.66,259.81 L227.18,259.17 L227.69,258.41 L228.21,257.52 L228.73,256.47 L229.25,255.24 L229.76,253.86 L230.28,252.33 L230.80,250.65 L231.32,248.82 L231.84,246.87 L232.35,244.82 L232.87,242.72 L233.39,240.60 L233.91,238.54 L234.42,236.59 L234.94,234.86 L235.46,233.72 L235.97,233.63 L236.49,234.51 L237.01,236.21 L237.53,238.48 L238.05,241.12 L238.56,243.91 L239.08,246.70 L239.60,249.38 L240.12,251.90 L240.63,254.20 L241.15,256.25 L241.67,258.01 L242.19,259.46 L242.70,260.63 L243.22,261.51 L243.74,262.17 L244.25,262.62 L244.77,262.93 L245.29,263.12 L245.81,263.25 L246.32,263.32 L246.84,263.36 L247.36,263.38 L247.88,263.39 L248.40,263.40 L248.91,263.40 L249.43,263.40 L249.95,263.40 L250.47,263.40 L250.98,263.40 L251.50,263.40 L251.50,263.40 L189.40,263.40 Z" fill="rgba(150,150,150,0.55)" stroke="none" stroke-width="1" />
<path d="M220.45,263.09 L220.97,263.00 L221.49,262.88 L222.00,262.74 L222.52,262.57 L223.04,262.37 L223.56,262.14 L224.07,261.87 L224.59,261.57 L225.11,261.22 L225.62,260.82 L226.14,260.35 L226.66,259.81 L227.18,259.17 L227.69,258.41 L228.21,257.52 L228.73,256.47 L229.25,255.24 L229.76,253.86 L230.28,252.33 L230.80,250.65 L231.32,248.82 L231.84,246.87 L232.35,244.82 L232.87,242.72 L233.39,240.60 L233.91,238.54 L234.42,236.59 L234.94,234.86 L235.46,233.72 L235.97,233.63 L236.49,234.51 L237.01,236.21 L237.53,238.48 L238.05,241.12 L238.56,243.91 L239.08,246.70 L239.60,249.38 L240.12,251.90 L240.63,254.20 L241.15,256.25 L241.67,258.01 L242.19,259.46 L242.70,260.63 L243.22,261.51 L243.74,262.17 L244.25,262.62 L244.77,262.93 L245.29,263.12" fill="none" stroke="#888" stroke-width="0.5" />
<path d="M189.40,226.00 L189.92,226.00 L190.44,226.00 L190.95,226.00 L191.47,226.00 L191.99,226.00 L192.50,226.00 L193.02,226.00 L193.54,226.00 L194.06,226.00 L194.58,226.00 L195.09,226.00 L195.61,226.00 L196.13,226.00 L196.65,226.00 L197.16,226.00 L197.68,226.00 L198.20,226.00 L198.72,226.00 L199.23,226.00 L199.75,226.00 L200.27,226.00 L200.78,226.00 L201.30,226.00 L201.82,226.00 L202.34,226.00 L202.86,226.00 L203.37,226.00 L203.89,226.00 L204.41,226.00 L204.93,226.00 L205.44,226.00 L205.96,226.00 L206.48,226.00 L207.00,226.00 L207.51,226.00 L208.03,226.00 L208.55,226.00 L209.06,226.00 L209.58,226.00 L210.10,226.00 L210.62,226.00 L211.13,226.00 L211.65,226.00 L212.17,226.00 L212.69,226.00 L213.21,225.99 L213.72,225.99 L214.24,225.99 L214.76,225.99 L215.28,225.98 L215.79,225.98 L216.31,225.97 L216.83,225.97 L217.34,225.96 L217.86,225.95 L218.38,225.94 L218.90,225.92 L219.41,225.91 L219.93,225.89 L220.45,225.87 L220.97,225.84 L221.49,225.81 L222.00,225.78 L222.52,225.74 L223.04,225.70 L223.56,225.65 L224.07,225.60 L224.59,225.55 L225.11,225.49 L225.62,225.43 L226.14,225.37 L226.66,225.31 L227.18,225.24 L227.69,225.17 L228.21,225.09 L228.73,225.00 L229.25,224.90 L229.76,224.77 L230.28,224.61 L230.80,224.39 L231.32,224.11 L231.84,223.72 L232.35,223.20 L232.87,222.51 L233.39,221.64 L233.91,220.57 L234.42,219.27 L234.94,217.74 L235.46,215.99 L235.97,214.05 L236.49,211.98 L237.01,209.85 L237.53,207.79 L238.05,205.91 L238.56,204.32 L239.08,203.15 L239.60,202.47 L240.12,202.34 L240.63,202.74 L241.15,203.61 L241.67,204.91 L242.19,206.57 L242.70,208.48 L243.22,210.54 L243.74,212.65 L244.25,214.73 L244.77,216.68 L245.29,218.47 L245.81,220.04 L246.32,221.39 L246.84,222.51 L247.36,223.41 L247.88,224.13 L248.40,224.67 L248.91,225.08 L249.43,225.37 L249.95,225.58 L250.47,225.73 L250.98,225.83 L251.50,225.89" fill="none" stroke="#555" stroke-width="0.75" />
<path d="M189.40,238.40 L189.92,238.40 L190.44,238.40 L190.95,238.40 L191.47,238.40 L191.99,238.40 L192.50,238.40 L193.02,238.40 L193.54,238.40 L194.06,238.40 L194.58,238.40 L195.09,238.40 L195.61,238.40 L196.13,238.40 L196.65,238.40 L197.16,238.40 L197.68,238.40 L198.20,238.40 L198.72,238.40 L199.23,238.40 L199.75,238.40 L200.27,238.40 L200.78,238.40 L201.30,238.40 L201.82,238.40 L202.34,238.40 L202.86,238.40 L203.37,238.40 L203.89,238.40 L204.41,238.40 L204.93,238.40 L205.44,238.40 L205.96,238.40 L206.48,238.40 L207.00,238.40 L207.51,238.40 L208.03,238.40 L208.55,238.40 L209.06,238.39 L209.58,238.39 L210.10,238.39 L210.62,238.39 L211.13,238.38 L211.65,238.38 L212.17,238.37 L212.69,238.36 L213.21,238.35 L213.72,238.34 L214.24,238.33 L214.76,238.31 L215.28,238.29 L215.79,238.27 L216.31,238.24 L216.83,238.21 L217.34,238.17 L217.86,238.13 L218.38,238.09 L218.90,238.04 L219.41,237.98 L219.93,237.92 L220.45,237.86 L220.97,237.79 L221.49,237.71 L222.00,237.64 L222.52,237.56 L223.04,237.47 L223.56,237.38 L224.07,237.29 L224.59,237.18 L225.11,237.07 L225.62,236.92 L226.14,236.75 L226.66,236.52 L227.18,236.22 L227.69,235.82 L228.21,235.30 L228.73,234.61 L229.25,233.74 L229.76,232.68 L230.28,231.42 L230.80,229.94 L231.32,228.26 L231.84,226.41 L232.35,224.44 L232.87,222.44 L233.39,220.51 L233.91,218.76 L234.42,217.30 L234.94,216.25 L235.46,215.67 L235.97,215.62 L236.49,215.99 L237.01,216.72 L237.53,217.79 L238.05,219.15 L238.56,220.73 L239.08,222.46 L239.60,224.27 L240.12,226.09 L240.63,227.86 L241.15,229.54 L241.67,231.08 L242.19,232.46 L242.70,233.66 L243.22,234.68 L243.74,235.54 L244.25,236.24 L244.77,236.79 L245.29,237.22 L245.81,237.56 L246.32,237.80 L246.84,237.99 L247.36,238.12 L247.88,238.21 L248.40,238.28 L248.91,238.32 L249.43,238.35 L249.95,238.37 L250.47,238.38 L250.98,238.39 L251.50,238.39" fill="none" stroke="#555" stroke-width="0.75" />
<rect x="188.9" y="200.3" width="63.0" height="63.2" fill="none" stroke="#6a6a6a" stroke-width="0.9"/>
<text x="190.00" y="234.00" font-size="6.4" text-anchor="start" fill="#1a1a1a"><tspan font-style="italic">Wnk1</tspan><tspan font-size="4.22" dy="-2.4">fl/+</tspan><tspan dy="2.4"> RCE</tspan></text>
<text x="190.00" y="258.80" font-size="6.4" text-anchor="start" fill="#1a1a1a"><tspan font-style="italic">Wnk1</tspan><tspan font-size="4.22" dy="-2.4">fl/-</tspan><tspan dy="2.4"> RCE</tspan></text>
<line x1="193.00" y1="263.10" x2="193.00" y2="262.00" stroke="#777" stroke-width="0.6" />
<line x1="197.90" y1="263.10" x2="197.90" y2="262.00" stroke="#777" stroke-width="0.6" />
<line x1="202.80" y1="263.10" x2="202.80" y2="262.00" stroke="#777" stroke-width="0.6" />
<line x1="207.70" y1="263.10" x2="207.70" y2="262.00" stroke="#777" stroke-width="0.6" />
<line x1="212.60" y1="263.10" x2="212.60" y2="262.00" stroke="#777" stroke-width="0.6" />
<line x1="217.50" y1="263.10" x2="217.50" y2="262.00" stroke="#777" stroke-width="0.6" />
<line x1="222.40" y1="263.10" x2="222.40" y2="262.00" stroke="#777" stroke-width="0.6" />
<line x1="227.30" y1="263.10" x2="227.30" y2="262.00" stroke="#777" stroke-width="0.6" />
<line x1="232.20" y1="263.10" x2="232.20" y2="262.00" stroke="#777" stroke-width="0.6" />
<line x1="237.10" y1="263.10" x2="237.10" y2="262.00" stroke="#777" stroke-width="0.6" />
<line x1="242.00" y1="263.10" x2="242.00" y2="262.00" stroke="#777" stroke-width="0.6" />
<line x1="246.90" y1="263.10" x2="246.90" y2="262.00" stroke="#777" stroke-width="0.6" />
<line x1="203.00" y1="263.10" x2="203.00" y2="264.80" stroke="#555" stroke-width="0.6" />
<text x="203.00" y="269.20" font-size="4.0" text-anchor="middle" fill="#1a1a1a" >0</text>
<line x1="183.80" y1="271.20" x2="183.80" y2="206.50" stroke="#111" stroke-width="1.1" />
<path d="M181.5,207.9 Q183.8,206.8 186.1,207.9 L183.8,203.8 Z" fill="#111" stroke="none" stroke-width="1" />
<line x1="183.30" y1="271.20" x2="247.50" y2="271.20" stroke="#111" stroke-width="1.1" />
<path d="M246.5,269.3 L246.5,273.1 L251.4,271.2 Z" fill="#111" stroke="none" stroke-width="1" />
<text transform="translate(182.2,238.0) rotate(-90)" font-size="6.4" text-anchor="middle" fill="#1a1a1a">Modal</text>
<text x="217.70" y="278.00" font-size="6.4" text-anchor="middle" fill="#1a1a1a" >Streptavidin</text>
<text x="255.00" y="226.20" font-size="6.4" text-anchor="start" fill="#1a1a1a" >0 min</text>
<text x="255.00" y="238.80" font-size="6.4" text-anchor="start" fill="#1a1a1a" >30 min</text>
<text x="255.00" y="251.50" font-size="6.4" text-anchor="start" fill="#1a1a1a" >0 min</text>
<text x="255.00" y="264.20" font-size="6.4" text-anchor="start" fill="#1a1a1a" >30 min</text>
<line x1="301.30" y1="263.30" x2="301.30" y2="200.70" stroke="#222" stroke-width="1.35" />
<line x1="299.30" y1="263.30" x2="301.30" y2="263.30" stroke="#222" stroke-width="0.9" />
<text x="299.00" y="265.60" font-size="6.4" text-anchor="end" fill="#1a1a1a" >0</text>
<line x1="299.30" y1="247.65" x2="301.30" y2="247.65" stroke="#222" stroke-width="0.9" />
<text x="299.00" y="249.95" font-size="6.4" text-anchor="end" fill="#1a1a1a" >20</text>
<line x1="299.30" y1="232.00" x2="301.30" y2="232.00" stroke="#222" stroke-width="0.9" />
<text x="299.00" y="234.30" font-size="6.4" text-anchor="end" fill="#1a1a1a" >40</text>
<line x1="299.30" y1="216.35" x2="301.30" y2="216.35" stroke="#222" stroke-width="0.9" />
<text x="299.00" y="218.65" font-size="6.4" text-anchor="end" fill="#1a1a1a" >60</text>
<line x1="299.30" y1="200.70" x2="301.30" y2="200.70" stroke="#222" stroke-width="0.9" />
<text x="299.00" y="203.00" font-size="6.4" text-anchor="end" fill="#1a1a1a" >80</text>
<line x1="300.70" y1="263.30" x2="391.60" y2="263.30" stroke="#222" stroke-width="1.35" />
<line x1="313.50" y1="263.30" x2="313.50" y2="265.10" stroke="#222" stroke-width="0.9" />
<text x="313.50" y="271.80" font-size="6.4" text-anchor="middle" fill="#1a1a1a" >0</text>
<line x1="335.80" y1="263.30" x2="335.80" y2="265.10" stroke="#222" stroke-width="0.9" />
<text x="335.80" y="271.80" font-size="6.4" text-anchor="middle" fill="#1a1a1a" >10</text>
<line x1="358.00" y1="263.30" x2="358.00" y2="265.10" stroke="#222" stroke-width="0.9" />
<text x="358.00" y="271.80" font-size="6.4" text-anchor="middle" fill="#1a1a1a" >20</text>
<line x1="380.00" y1="263.30" x2="380.00" y2="265.10" stroke="#222" stroke-width="0.9" />
<text x="380.00" y="271.80" font-size="6.4" text-anchor="middle" fill="#1a1a1a" >30</text>
<text x="347.30" y="277.60" font-size="6.4" text-anchor="middle" fill="#1a1a1a" >Time (min)</text>
<text transform="translate(288.8,231.8) rotate(-90)" font-size="6.4" text-anchor="middle" fill="#1a1a1a">% Internalisation</text>
<rect x="327.20" y="243.35" width="7.60" height="19.95" fill="#fff" stroke="#111" stroke-width="1"/>
<line x1="331.00" y1="243.35" x2="331.00" y2="242.05" stroke="#111" stroke-width="0.9" />
<line x1="329.00" y1="242.05" x2="333.00" y2="242.05" stroke="#111" stroke-width="0.9" />
<rect x="335.30" y="240.26" width="9.10" height="23.04" fill="#050510"/>
<line x1="339.85" y1="240.76" x2="339.85" y2="239.46" stroke="#111" stroke-width="0.9" />
<line x1="337.85" y1="239.46" x2="341.85" y2="239.46" stroke="#111" stroke-width="0.9" />
<rect x="349.40" y="231.61" width="7.40" height="31.69" fill="#fff" stroke="#111" stroke-width="1"/>
<line x1="353.10" y1="231.61" x2="353.10" y2="230.31" stroke="#111" stroke-width="0.9" />
<line x1="351.10" y1="230.31" x2="355.10" y2="230.31" stroke="#111" stroke-width="0.9" />
<rect x="357.30" y="226.57" width="9.10" height="36.73" fill="#050510"/>
<line x1="361.85" y1="227.07" x2="361.85" y2="225.77" stroke="#111" stroke-width="0.9" />
<line x1="359.85" y1="225.77" x2="363.85" y2="225.77" stroke="#111" stroke-width="0.9" />
<rect x="371.90" y="224.18" width="7.60" height="39.12" fill="#fff" stroke="#111" stroke-width="1"/>
<line x1="375.70" y1="224.18" x2="375.70" y2="222.88" stroke="#111" stroke-width="0.9" />
<line x1="373.70" y1="222.88" x2="377.70" y2="222.88" stroke="#111" stroke-width="0.9" />
<rect x="380.00" y="219.29" width="8.90" height="44.01" fill="#050510"/>
<line x1="384.45" y1="219.79" x2="384.45" y2="218.49" stroke="#111" stroke-width="0.9" />
<line x1="382.45" y1="218.49" x2="386.45" y2="218.49" stroke="#111" stroke-width="0.9" />
<line x1="353.50" y1="223.20" x2="362.40" y2="223.20" stroke="#111" stroke-width="1.0" />
<circle cx="357.80" cy="219.80" r="1.00" fill="#111" stroke="none" stroke-width="1"/>
<rect x="396.3" y="201.5" width="5.4" height="3.3" fill="#fff" stroke="#111" stroke-width="1.1"/>
<rect x="395.8" y="210.2" width="6.4" height="3.8" fill="#050510"/>
<text x="403.00" y="205.30" font-size="6.4" text-anchor="start" fill="#1a1a1a"><tspan font-style="italic">Wnk1</tspan><tspan font-size="4.22" dy="-2.4">fl/+</tspan><tspan dy="2.4"> RCE</tspan></text>
<text x="403.00" y="213.90" font-size="6.4" text-anchor="start" fill="#1a1a1a"><tspan font-style="italic">Wnk1</tspan><tspan font-size="4.22" dy="-2.4">fl/-</tspan><tspan dy="2.4"> RCE</tspan></text>
<path d="M445.6,203.6 H447.8 V212.2 H445.6" fill="none" stroke="#222" stroke-width="1.0" />
<circle cx="450.60" cy="207.40" r="1.00" fill="#111" stroke="none" stroke-width="1"/>
<text x="0.90" y="304.50" font-size="8.4" text-anchor="start" fill="#1a1a1a" stroke="#1a1a1a" stroke-width="0.25">E</text>
<text x="85.80" y="309.60" font-size="6.4" text-anchor="middle" fill="#1a1a1a"><tspan font-style="italic">Wnk1</tspan><tspan font-size="4.22" dy="-2.4">fl/+</tspan><tspan dy="2.4"> RCE</tspan></text>
<text x="130.50" y="309.60" font-size="6.4" text-anchor="middle" fill="#1a1a1a"><tspan font-style="italic">Wnk1</tspan><tspan font-size="4.22" dy="-2.4">fl/-</tspan><tspan dy="2.4"> RCE</tspan></text>
<line x1="67.70" y1="312.10" x2="104.20" y2="312.10" stroke="#111" stroke-width="1.1" />
<line x1="113.00" y1="312.10" x2="148.20" y2="312.10" stroke="#111" stroke-width="1.1" />
<text x="67.00" y="318.80" font-size="6.4" text-anchor="end" fill="#1a1a1a" >Time (h)</text>
<text x="73.50" y="318.80" font-size="6.4" text-anchor="middle" fill="#1a1a1a" >0</text>
<text x="81.50" y="318.80" font-size="6.4" text-anchor="middle" fill="#1a1a1a" >1</text>
<text x="90.30" y="318.80" font-size="6.4" text-anchor="middle" fill="#1a1a1a" >2</text>
<text x="99.70" y="318.80" font-size="6.4" text-anchor="middle" fill="#1a1a1a" >3</text>
<text x="117.70" y="318.80" font-size="6.4" text-anchor="middle" fill="#1a1a1a" >0</text>
<text x="126.20" y="318.80" font-size="6.4" text-anchor="middle" fill="#1a1a1a" >1</text>
<text x="134.20" y="318.80" font-size="6.4" text-anchor="middle" fill="#1a1a1a" >2</text>
<text x="142.30" y="318.80" font-size="6.4" text-anchor="middle" fill="#1a1a1a" >3</text>
<text x="67.0" y="325.8" font-size="6.4" text-anchor="end" fill="#1a1a1a">anti-IgM F(ab’)<tspan font-size="4" dy="1.4">2</tspan><tspan dy="-1.4">-biotin</tspan></text>
<text x="67.00" y="333.10" font-size="6.4" text-anchor="end" fill="#1a1a1a" >α-TUBULIN</text>
<rect x="67.7" y="320.4" width="79.6" height="6.2" fill="#dcdcdc"/>
<rect x="104.6" y="320.4" width="8.4" height="6.2" fill="#ebebeb"/>
<rect x="67.7" y="327.8" width="79.6" height="6.0" fill="#7c7c7c"/>
<rect x="104.6" y="327.8" width="8.4" height="6.0" fill="#8c8c8c"/>
<rect x="69.40" y="321.4" width="8.2" height="4.4" rx="1.4" fill="#0a0a0a"/>
<rect x="69.20" y="329.9" width="8.6" height="2.2" rx="0.8" fill="#1a1a1a"/>
<rect x="77.40" y="321.4" width="8.2" height="4.4" rx="1.4" fill="#0a0a0a"/>
<rect x="77.20" y="329.9" width="8.6" height="2.2" rx="0.8" fill="#1a1a1a"/>
<rect x="86.20" y="321.4" width="8.2" height="4.4" rx="1.4" fill="#0a0a0a"/>
<rect x="86.00" y="329.9" width="8.6" height="2.2" rx="0.8" fill="#1a1a1a"/>
<rect x="95.60" y="321.4" width="8.2" height="4.4" rx="1.4" fill="#0a0a0a"/>
<rect x="95.40" y="329.9" width="8.6" height="2.2" rx="0.8" fill="#1a1a1a"/>
<rect x="113.60" y="321.4" width="8.2" height="4.4" rx="1.4" fill="#0a0a0a"/>
<rect x="113.40" y="329.9" width="8.6" height="2.2" rx="0.8" fill="#1a1a1a"/>
<rect x="122.10" y="321.4" width="8.2" height="4.4" rx="1.4" fill="#0a0a0a"/>
<rect x="121.90" y="329.9" width="8.6" height="2.2" rx="0.8" fill="#1a1a1a"/>
<rect x="130.10" y="321.4" width="8.2" height="4.4" rx="1.4" fill="#0a0a0a"/>
<rect x="129.90" y="329.9" width="8.6" height="2.2" rx="0.8" fill="#1a1a1a"/>
<rect x="138.20" y="321.4" width="8.2" height="4.4" rx="1.4" fill="#0a0a0a"/>
<rect x="138.00" y="329.9" width="8.6" height="2.2" rx="0.8" fill="#1a1a1a"/>
<text x="149.20" y="326.30" font-size="6.4" text-anchor="start" fill="#1a1a1a" >27 kD</text>
<text x="149.20" y="333.10" font-size="6.4" text-anchor="start" fill="#1a1a1a" >50 kD</text>
<line x1="67.20" y1="393.00" x2="67.20" y2="340.00" stroke="#222" stroke-width="1.35" />
<line x1="65.20" y1="393.00" x2="67.20" y2="393.00" stroke="#222" stroke-width="0.9" />
<text x="64.90" y="395.30" font-size="6.4" text-anchor="end" fill="#1a1a1a" >0.0</text>
<line x1="65.20" y1="371.70" x2="67.20" y2="371.70" stroke="#222" stroke-width="0.9" />
<text x="64.90" y="374.00" font-size="6.4" text-anchor="end" fill="#1a1a1a" >0.1</text>
<line x1="65.20" y1="350.40" x2="67.20" y2="350.40" stroke="#222" stroke-width="0.9" />
<text x="64.90" y="352.70" font-size="6.4" text-anchor="end" fill="#1a1a1a" >0.2</text>
<line x1="66.60" y1="393.00" x2="147.50" y2="393.00" stroke="#222" stroke-width="1.35" />
<line x1="73.10" y1="356.50" x2="73.10" y2="352.70" stroke="#111" stroke-width="0.9" />
<line x1="71.10" y1="352.70" x2="75.10" y2="352.70" stroke="#111" stroke-width="0.9" />
<rect x="69.70" y="356.50" width="6.80" height="36.50" fill="#fff" stroke="#111" stroke-width="1"/>
<line x1="81.55" y1="366.20" x2="81.55" y2="363.20" stroke="#111" stroke-width="0.9" />
<line x1="79.55" y1="363.20" x2="83.55" y2="363.20" stroke="#111" stroke-width="0.9" />
<rect x="78.20" y="366.20" width="6.70" height="26.80" fill="#fff" stroke="#111" stroke-width="1"/>
<line x1="90.40" y1="369.20" x2="90.40" y2="366.50" stroke="#111" stroke-width="0.9" />
<line x1="88.40" y1="366.50" x2="92.40" y2="366.50" stroke="#111" stroke-width="0.9" />
<rect x="87.00" y="369.20" width="6.80" height="23.80" fill="#fff" stroke="#111" stroke-width="1"/>
<line x1="100.15" y1="371.20" x2="100.15" y2="370.00" stroke="#111" stroke-width="0.9" />
<line x1="98.15" y1="370.00" x2="102.15" y2="370.00" stroke="#111" stroke-width="0.9" />
<rect x="97.00" y="371.20" width="6.30" height="21.80" fill="#fff" stroke="#111" stroke-width="1"/>
<line x1="117.70" y1="356.50" x2="117.70" y2="351.20" stroke="#111" stroke-width="0.9" />
<line x1="115.70" y1="351.20" x2="119.70" y2="351.20" stroke="#111" stroke-width="0.9" />
<rect x="113.20" y="356.00" width="9.00" height="37.00" fill="#050510"/>
<line x1="126.30" y1="365.00" x2="126.30" y2="363.50" stroke="#111" stroke-width="0.9" />
<line x1="124.30" y1="363.50" x2="128.30" y2="363.50" stroke="#111" stroke-width="0.9" />
<rect x="122.20" y="364.50" width="8.20" height="28.50" fill="#050510"/>
<line x1="134.40" y1="370.40" x2="134.40" y2="367.30" stroke="#111" stroke-width="0.9" />
<line x1="132.40" y1="367.30" x2="136.40" y2="367.30" stroke="#111" stroke-width="0.9" />
<rect x="130.40" y="369.90" width="8.00" height="23.10" fill="#050510"/>
<line x1="142.60" y1="372.20" x2="142.60" y2="369.30" stroke="#111" stroke-width="0.9" />
<line x1="140.60" y1="369.30" x2="144.60" y2="369.30" stroke="#111" stroke-width="0.9" />
<rect x="138.40" y="371.70" width="8.40" height="21.30" fill="#050510"/>
<text transform="translate(45.6,369.5) rotate(-90)" font-size="6.4" text-anchor="middle" fill="#1a1a1a">anti-IgM F(ab’)<tspan font-size="4" dy="1.4">2</tspan><tspan dy="-1.4">-</tspan></text>
<text transform="translate(52.6,369.5) rotate(-90)" font-size="6.4" text-anchor="middle" fill="#1a1a1a">biotin</text>
<text x="185.10" y="303.50" font-size="8.4" text-anchor="start" fill="#1a1a1a" stroke="#1a1a1a" stroke-width="0.25">F</text>
<line x1="201.70" y1="330.50" x2="263.70" y2="330.50" stroke="#f5cdd2" stroke-width="0.5" />
<line x1="201.70" y1="343.10" x2="263.70" y2="343.10" stroke="#f5cdd2" stroke-width="0.5" />
<line x1="201.70" y1="355.50" x2="263.70" y2="355.50" stroke="#f5cdd2" stroke-width="0.5" />
<path d="M201.70,367.70 L202.22,367.70 L202.73,367.70 L203.25,367.70 L203.77,367.70 L204.28,367.70 L204.80,367.70 L205.32,367.70 L205.83,367.70 L206.35,367.70 L206.87,367.70 L207.38,367.70 L207.90,367.70 L208.42,367.70 L208.93,367.70 L209.45,367.70 L209.97,367.70 L210.48,367.70 L211.00,367.70 L211.52,367.69 L212.03,367.69 L212.55,367.69 L213.07,367.69 L213.58,367.68 L214.10,367.68 L214.62,367.67 L215.13,367.66 L215.65,367.65 L216.17,367.64 L216.68,367.62 L217.20,367.60 L217.72,367.58 L218.23,367.56 L218.75,367.53 L219.27,367.49 L219.78,367.45 L220.30,367.40 L220.82,367.35 L221.33,367.29 L221.85,367.22 L222.37,367.14 L222.88,367.06 L223.40,366.97 L223.92,366.86 L224.43,366.75 L224.95,366.63 L225.47,366.49 L225.98,366.33 L226.50,366.15 L227.02,365.93 L227.53,365.68 L228.05,365.39 L228.57,365.03 L229.08,364.60 L229.60,364.08 L230.12,363.45 L230.63,362.71 L231.15,361.85 L231.67,360.85 L232.18,359.73 L232.70,358.51 L233.22,357.22 L233.73,355.88 L234.25,354.51 L234.77,353.15 L235.28,351.84 L235.80,350.61 L236.32,349.53 L236.83,348.63 L237.35,347.97 L237.87,347.58 L238.38,347.49 L238.90,347.87 L239.42,348.88 L239.93,350.42 L240.45,352.36 L240.97,354.54 L241.48,356.78 L242.00,358.94 L242.52,360.91 L243.03,362.61 L243.55,364.01 L244.07,365.12 L244.58,365.95 L245.10,366.56 L245.62,366.98 L246.13,367.26 L246.65,367.44 L247.17,367.55 L247.68,367.62 L248.20,367.66 L248.72,367.68 L249.23,367.69 L249.75,367.69 L250.27,367.70 L250.78,367.70 L251.30,367.70 L251.82,367.70 L252.33,367.70 L252.85,367.70 L253.37,367.70 L253.88,367.70 L254.40,367.70 L254.92,367.70 L255.43,367.70 L255.95,367.70 L256.47,367.70 L256.98,367.70 L257.50,367.70 L258.02,367.70 L258.53,367.70 L259.05,367.70 L259.57,367.70 L260.08,367.70 L260.60,367.70 L261.12,367.70 L261.63,367.70 L262.15,367.70 L262.67,367.70 L263.18,367.70 L263.70,367.70 L263.70,367.70 L201.70,367.70 Z" fill="rgba(208,40,60,0.55)" stroke="none" stroke-width="1" />
<path d="M219.78,367.45 L220.30,367.40 L220.82,367.35 L221.33,367.29 L221.85,367.22 L222.37,367.14 L222.88,367.06 L223.40,366.97 L223.92,366.86 L224.43,366.75 L224.95,366.63 L225.47,366.49 L225.98,366.33 L226.50,366.15 L227.02,365.93 L227.53,365.68 L228.05,365.39 L228.57,365.03 L229.08,364.60 L229.60,364.08 L230.12,363.45 L230.63,362.71 L231.15,361.85 L231.67,360.85 L232.18,359.73 L232.70,358.51 L233.22,357.22 L233.73,355.88 L234.25,354.51 L234.77,353.15 L235.28,351.84 L235.80,350.61 L236.32,349.53 L236.83,348.63 L237.35,347.97 L237.87,347.58 L238.38,347.49 L238.90,347.87 L239.42,348.88 L239.93,350.42 L240.45,352.36 L240.97,354.54 L241.48,356.78 L242.00,358.94 L242.52,360.91 L243.03,362.61 L243.55,364.01 L244.07,365.12 L244.58,365.95 L245.10,366.56 L245.62,366.98 L246.13,367.26 L246.65,367.44" fill="none" stroke="#c43a4c" stroke-width="0.5" />
<path d="M201.70,355.48 L202.22,355.47 L202.73,355.46 L203.25,355.45 L203.77,355.44 L204.28,355.42 L204.80,355.40 L205.32,355.37 L205.83,355.35 L206.35,355.31 L206.87,355.27 L207.38,355.22 L207.90,355.17 L208.42,355.11 L208.93,355.04 L209.45,354.96 L209.97,354.87 L210.48,354.77 L211.00,354.65 L211.52,354.53 L212.03,354.39 L212.55,354.24 L213.07,354.06 L213.58,353.87 L214.10,353.66 L214.62,353.41 L215.13,353.13 L215.65,352.81 L216.17,352.44 L216.68,352.01 L217.20,351.51 L217.72,350.94 L218.23,350.28 L218.75,349.52 L219.27,348.66 L219.78,347.69 L220.30,346.63 L220.82,345.51 L221.33,344.34 L221.85,343.13 L222.37,341.89 L222.88,340.62 L223.40,339.35 L223.92,338.10 L224.43,336.91 L224.95,335.80 L225.47,334.82 L225.98,334.01 L226.50,333.40 L227.02,333.02 L227.53,332.90 L228.05,333.20 L228.57,334.17 L229.08,335.73 L229.60,337.75 L230.12,340.05 L230.63,342.48 L231.15,344.86 L231.67,347.08 L232.18,349.05 L232.70,350.71 L233.22,352.05 L233.73,353.10 L234.25,353.88 L234.77,354.44 L235.28,354.83 L235.80,355.09 L236.32,355.25 L236.83,355.36 L237.35,355.42 L237.87,355.46 L238.38,355.48 L238.90,355.49 L239.42,355.49 L239.93,355.50 L240.45,355.50 L240.97,355.50 L241.48,355.50 L242.00,355.50 L242.52,355.50 L243.03,355.50 L243.55,355.50 L244.07,355.50 L244.58,355.50 L245.10,355.50 L245.62,355.50 L246.13,355.50 L246.65,355.50 L247.17,355.50 L247.68,355.50 L248.20,355.50 L248.72,355.50 L249.23,355.50 L249.75,355.50 L250.27,355.50 L250.78,355.50 L251.30,355.50 L251.82,355.50 L252.33,355.50 L252.85,355.50 L253.37,355.50 L253.88,355.50 L254.40,355.50 L254.92,355.50 L255.43,355.50 L255.95,355.50 L256.47,355.50 L256.98,355.50 L257.50,355.50 L258.02,355.50 L258.53,355.50 L259.05,355.50 L259.57,355.50 L260.08,355.50 L260.60,355.50 L261.12,355.50 L261.63,355.50 L262.15,355.50 L262.67,355.50 L263.18,355.50 L263.70,355.50 L263.70,355.50 L201.70,355.50 Z" fill="rgba(208,40,60,0.55)" stroke="none" stroke-width="1" />
<path d="M207.38,355.22 L207.90,355.17 L208.42,355.11 L208.93,355.04 L209.45,354.96 L209.97,354.87 L210.48,354.77 L211.00,354.65 L211.52,354.53 L212.03,354.39 L212.55,354.24 L213.07,354.06 L213.58,353.87 L214.10,353.66 L214.62,353.41 L215.13,353.13 L215.65,352.81 L216.17,352.44 L216.68,352.01 L217.20,351.51 L217.72,350.94 L218.23,350.28 L218.75,349.52 L219.27,348.66 L219.78,347.69 L220.30,346.63 L220.82,345.51 L221.33,344.34 L221.85,343.13 L222.37,341.89 L222.88,340.62 L223.40,339.35 L223.92,338.10 L224.43,336.91 L224.95,335.80 L225.47,334.82 L225.98,334.01 L226.50,333.40 L227.02,333.02 L227.53,332.90 L228.05,333.20 L228.57,334.17 L229.08,335.73 L229.60,337.75 L230.12,340.05 L230.63,342.48 L231.15,344.86 L231.67,347.08 L232.18,349.05 L232.70,350.71 L233.22,352.05 L233.73,353.10 L234.25,353.88 L234.77,354.44 L235.28,354.83 L235.80,355.09" fill="none" stroke="#c43a4c" stroke-width="0.5" />
<path d="M201.70,343.09 L202.22,343.09 L202.73,343.08 L203.25,343.08 L203.77,343.08 L204.28,343.07 L204.80,343.07 L205.32,343.06 L205.83,343.06 L206.35,343.05 L206.87,343.04 L207.38,343.03 L207.90,343.02 L208.42,343.00 L208.93,342.99 L209.45,342.97 L209.97,342.95 L210.48,342.93 L211.00,342.90 L211.52,342.87 L212.03,342.84 L212.55,342.81 L213.07,342.77 L213.58,342.73 L214.10,342.68 L214.62,342.64 L215.13,342.58 L215.65,342.52 L216.17,342.46 L216.68,342.39 L217.20,342.32 L217.72,342.25 L218.23,342.17 L218.75,342.08 L219.27,342.00 L219.78,341.91 L220.30,341.81 L220.82,341.71 L221.33,341.61 L221.85,341.51 L222.37,341.41 L222.88,341.30 L223.40,341.20 L223.92,341.10 L224.43,340.99 L224.95,340.89 L225.47,340.79 L225.98,340.69 L226.50,340.60 L227.02,340.51 L227.53,340.42 L228.05,340.33 L228.57,340.24 L229.08,340.15 L229.60,340.05 L230.12,339.93 L230.63,339.79 L231.15,339.62 L231.67,339.41 L232.18,339.14 L232.70,338.84 L233.22,338.49 L233.73,338.06 L234.25,337.55 L234.77,336.94 L235.28,336.20 L235.80,335.32 L236.32,334.32 L236.83,333.19 L237.35,331.95 L237.87,330.64 L238.38,329.30 L238.90,327.98 L239.42,326.73 L239.93,325.62 L240.45,324.69 L240.97,324.00 L241.48,323.58 L242.00,323.47 L242.52,323.73 L243.03,324.41 L243.55,325.48 L244.07,326.86 L244.58,328.47 L245.10,330.22 L245.62,332.02 L246.13,333.78 L246.65,335.44 L247.17,336.95 L247.68,338.28 L248.20,339.40 L248.72,340.33 L249.23,341.07 L249.75,341.65 L250.27,342.09 L250.78,342.41 L251.30,342.64 L251.82,342.80 L252.33,342.91 L252.85,342.98 L253.37,343.03 L253.88,343.06 L254.40,343.07 L254.92,343.09 L255.43,343.09 L255.95,343.10 L256.47,343.10 L256.98,343.10 L257.50,343.10 L258.02,343.10 L258.53,343.10 L259.05,343.10 L259.57,343.10 L260.08,343.10 L260.60,343.10 L261.12,343.10 L261.63,343.10 L262.15,343.10 L262.67,343.10 L263.18,343.10 L263.70,343.10" fill="none" stroke="#e5707e" stroke-width="0.7" />
<path d="M201.70,330.03 L202.22,329.97 L202.73,329.91 L203.25,329.85 L203.77,329.78 L204.28,329.71 L204.80,329.64 L205.32,329.56 L205.83,329.47 L206.35,329.38 L206.87,329.29 L207.38,329.20 L207.90,329.10 L208.42,329.00 L208.93,328.89 L209.45,328.79 L209.97,328.69 L210.48,328.58 L211.00,328.47 L211.52,328.37 L212.03,328.26 L212.55,328.16 L213.07,328.06 L213.58,327.95 L214.10,327.85 L214.62,327.74 L215.13,327.62 L215.65,327.50 L216.17,327.35 L216.68,327.19 L217.20,327.00 L217.72,326.77 L218.23,326.48 L218.75,326.14 L219.27,325.73 L219.78,325.25 L220.30,324.70 L220.82,324.06 L221.33,323.32 L221.85,322.48 L222.37,321.53 L222.88,320.48 L223.40,319.34 L223.92,318.13 L224.43,316.87 L224.95,315.60 L225.47,314.35 L225.98,313.16 L226.50,312.08 L227.02,311.15 L227.53,310.41 L228.05,309.89 L228.57,309.62 L229.08,309.61 L229.60,309.97 L230.12,310.71 L230.63,311.80 L231.15,313.19 L231.67,314.80 L232.18,316.54 L232.70,318.34 L233.22,320.12 L233.73,321.82 L234.25,323.39 L234.77,324.80 L235.28,326.02 L235.80,327.05 L236.32,327.89 L236.83,328.57 L237.35,329.10 L237.87,329.51 L238.38,329.81 L238.90,330.03 L239.42,330.19 L239.93,330.30 L240.45,330.37 L240.97,330.42 L241.48,330.45 L242.00,330.47 L242.52,330.48 L243.03,330.49 L243.55,330.49 L244.07,330.50 L244.58,330.50 L245.10,330.50 L245.62,330.50 L246.13,330.50 L246.65,330.50 L247.17,330.50 L247.68,330.50 L248.20,330.50 L248.72,330.50 L249.23,330.50 L249.75,330.50 L250.27,330.50 L250.78,330.50 L251.30,330.50 L251.82,330.50 L252.33,330.50 L252.85,330.50 L253.37,330.50 L253.88,330.50 L254.40,330.50 L254.92,330.50 L255.43,330.50 L255.95,330.50 L256.47,330.50 L256.98,330.50 L257.50,330.50 L258.02,330.50 L258.53,330.50 L259.05,330.50 L259.57,330.50 L260.08,330.50 L260.60,330.50 L261.12,330.50 L261.63,330.50 L262.15,330.50 L262.67,330.50 L263.18,330.50 L263.70,330.50" fill="none" stroke="#e5707e" stroke-width="0.7" />
<rect x="201.3" y="304.4" width="62.8" height="63.3" fill="none" stroke="#6a6a6a" stroke-width="0.9"/>
<line x1="205.00" y1="368.00" x2="205.00" y2="367.00" stroke="#777" stroke-width="0.6" />
<line x1="209.90" y1="368.00" x2="209.90" y2="367.00" stroke="#777" stroke-width="0.6" />
<line x1="214.80" y1="368.00" x2="214.80" y2="367.00" stroke="#777" stroke-width="0.6" />
<line x1="219.70" y1="368.00" x2="219.70" y2="367.00" stroke="#777" stroke-width="0.6" />
<line x1="224.60" y1="368.00" x2="224.60" y2="367.00" stroke="#777" stroke-width="0.6" />
<line x1="229.50" y1="368.00" x2="229.50" y2="367.00" stroke="#777" stroke-width="0.6" />
<line x1="234.40" y1="368.00" x2="234.40" y2="367.00" stroke="#777" stroke-width="0.6" />
<line x1="239.30" y1="368.00" x2="239.30" y2="367.00" stroke="#777" stroke-width="0.6" />
<line x1="244.20" y1="368.00" x2="244.20" y2="367.00" stroke="#777" stroke-width="0.6" />
<line x1="249.10" y1="368.00" x2="249.10" y2="367.00" stroke="#777" stroke-width="0.6" />
<line x1="254.00" y1="368.00" x2="254.00" y2="367.00" stroke="#777" stroke-width="0.6" />
<line x1="258.90" y1="368.00" x2="258.90" y2="367.00" stroke="#777" stroke-width="0.6" />
<line x1="212.30" y1="368.00" x2="212.30" y2="369.60" stroke="#555" stroke-width="0.6" />
<text x="212.30" y="373.60" font-size="4.0" text-anchor="middle" fill="#1a1a1a" >0</text>
<line x1="195.80" y1="375.30" x2="195.80" y2="313.00" stroke="#111" stroke-width="1.1" />
<path d="M193.9,314.0 L197.7,314.0 L195.8,308.8 Z" fill="#111" stroke="none" stroke-width="1" />
<line x1="195.30" y1="375.30" x2="260.00" y2="375.30" stroke="#111" stroke-width="1.1" />
<path d="M259.0,373.4 L259.0,377.2 L264.0,375.3 Z" fill="#111" stroke="none" stroke-width="1" />
<text transform="translate(194.0,342.2) rotate(-90)" font-size="6.4" text-anchor="middle" fill="#1a1a1a">Modal</text>
<text x="229.2" y="383.1" font-size="6.4" text-anchor="middle" fill="#1a1a1a">Eα-I-A<tspan font-size="4" dy="-2.3">b</tspan></text>
<text x="267.40" y="330.80" font-size="6.4" text-anchor="start" fill="#1a1a1a">0 h <tspan font-style="italic">Wnk1</tspan><tspan font-size="4.22" dy="-2.4">fl/+</tspan><tspan dy="2.4"> RCE</tspan></text>
<text x="267.40" y="343.10" font-size="6.4" text-anchor="start" fill="#1a1a1a">5 h <tspan font-style="italic">Wnk1</tspan><tspan font-size="4.22" dy="-2.4">fl/+</tspan><tspan dy="2.4"> RCE</tspan></text>
<text x="267.40" y="355.70" font-size="6.4" text-anchor="start" fill="#1a1a1a">0 h <tspan font-style="italic">Wnk1</tspan><tspan font-size="4.22" dy="-2.4">fl/-</tspan><tspan dy="2.4"> RCE</tspan></text>
<text x="267.40" y="367.70" font-size="6.4" text-anchor="start" fill="#1a1a1a">5 h <tspan font-style="italic">Wnk1</tspan><tspan font-size="4.22" dy="-2.4">fl/-</tspan><tspan dy="2.4"> RCE</tspan></text>
<line x1="339.70" y1="368.00" x2="339.70" y2="305.00" stroke="#222" stroke-width="1.35" />
<line x1="337.70" y1="368.00" x2="339.70" y2="368.00" stroke="#222" stroke-width="0.9" />
<text x="337.40" y="370.30" font-size="6.4" text-anchor="end" fill="#1a1a1a" >0</text>
<line x1="337.70" y1="352.25" x2="339.70" y2="352.25" stroke="#222" stroke-width="0.9" />
<text x="337.40" y="354.55" font-size="6.4" text-anchor="end" fill="#1a1a1a" >1</text>
<line x1="337.70" y1="336.50" x2="339.70" y2="336.50" stroke="#222" stroke-width="0.9" />
<text x="337.40" y="338.80" font-size="6.4" text-anchor="end" fill="#1a1a1a" >2</text>
<line x1="337.70" y1="320.75" x2="339.70" y2="320.75" stroke="#222" stroke-width="0.9" />
<text x="337.40" y="323.05" font-size="6.4" text-anchor="end" fill="#1a1a1a" >3</text>
<line x1="337.70" y1="305.00" x2="339.70" y2="305.00" stroke="#222" stroke-width="0.9" />
<text x="337.40" y="307.30" font-size="6.4" text-anchor="end" fill="#1a1a1a" >4</text>
<line x1="339.10" y1="368.00" x2="435.00" y2="368.00" stroke="#222" stroke-width="1.35" />
<line x1="339.70" y1="368.00" x2="339.70" y2="369.80" stroke="#222" stroke-width="0.9" />
<text x="339.70" y="375.80" font-size="6.4" text-anchor="middle" fill="#1a1a1a" >0</text>
<line x1="397.00" y1="368.00" x2="397.00" y2="369.80" stroke="#222" stroke-width="0.9" />
<text x="397.00" y="375.80" font-size="6.4" text-anchor="middle" fill="#1a1a1a" >3</text>
<line x1="434.60" y1="368.00" x2="434.60" y2="369.80" stroke="#222" stroke-width="0.9" />
<text x="434.60" y="375.80" font-size="6.4" text-anchor="middle" fill="#1a1a1a" >5</text>
<text x="387.70" y="381.90" font-size="6.4" text-anchor="middle" fill="#1a1a1a" >Time (h)</text>
<text transform="translate(329.2,336.5) rotate(-90)" font-size="6.4" text-anchor="middle" fill="#1a1a1a">Eα-I-A<tspan font-size="4" dy="-2.3">b</tspan><tspan dy="2.3"> (normalized)</tspan></text>
<polyline points="339.70,348.00 397.00,348.60 434.60,353.20" fill="none" stroke="#000" stroke-width="1.0" stroke-linejoin="round" />
<polyline points="339.70,352.00 397.00,346.00 434.60,351.60" fill="none" stroke="#000" stroke-width="1.0" stroke-linejoin="round" />
<polyline points="339.70,354.40 397.00,333.50 434.60,326.50" fill="none" stroke="#d52c44" stroke-width="1.0" stroke-linejoin="round" />
<polyline points="339.70,354.70 397.00,322.80 434.60,312.70" fill="none" stroke="#d52c44" stroke-width="1.0" stroke-linejoin="round" />
<line x1="339.70" y1="344.90" x2="339.70" y2="351.20" stroke="#000" stroke-width="0.9" />
<line x1="337.50" y1="344.90" x2="341.90" y2="344.90" stroke="#000" stroke-width="1.0" />
<line x1="434.60" y1="308.70" x2="434.60" y2="316.70" stroke="#d52c44" stroke-width="0.9" />
<line x1="432.40" y1="308.70" x2="436.80" y2="308.70" stroke="#d52c44" stroke-width="1.0" />
<line x1="432.40" y1="316.70" x2="436.80" y2="316.70" stroke="#d52c44" stroke-width="1.0" />
<circle cx="339.70" cy="348.00" r="3.30" fill="#000" stroke="none" stroke-width="1"/>
<circle cx="397.00" cy="348.60" r="3.30" fill="#000" stroke="none" stroke-width="1"/>
<circle cx="434.60" cy="353.20" r="3.30" fill="#000" stroke="none" stroke-width="1"/>
<circle cx="339.70" cy="352.00" r="2.50" fill="#fff" stroke="#000" stroke-width="1.6"/>
<circle cx="397.00" cy="346.00" r="2.50" fill="#fff" stroke="#000" stroke-width="1.6"/>
<circle cx="434.60" cy="351.60" r="2.50" fill="#fff" stroke="#000" stroke-width="1.6"/>
<circle cx="339.70" cy="354.40" r="3.30" fill="#d52c44" stroke="none" stroke-width="1"/>
<circle cx="397.00" cy="333.50" r="3.30" fill="#d52c44" stroke="none" stroke-width="1"/>
<circle cx="434.60" cy="326.50" r="3.30" fill="#d52c44" stroke="none" stroke-width="1"/>
<circle cx="339.70" cy="354.70" r="2.50" fill="#fff" stroke="#d52c44" stroke-width="1.6"/>
<circle cx="397.00" cy="322.80" r="2.50" fill="#fff" stroke="#d52c44" stroke-width="1.6"/>
<circle cx="434.60" cy="312.70" r="2.50" fill="#fff" stroke="#d52c44" stroke-width="1.6"/>
<circle cx="339.70" cy="348.00" r="3.30" fill="#000" stroke="none" stroke-width="1"/>
<circle cx="339.70" cy="354.70" r="2.50" fill="#fff" stroke="#d52c44" stroke-width="1.6"/>
<circle cx="395.20" cy="312.40" r="1.00" fill="#111" stroke="none" stroke-width="1"/>
<circle cx="398.80" cy="312.40" r="1.00" fill="#111" stroke="none" stroke-width="1"/>
<path d="M439.3,312.7 H442.3 V326.5 H439.3" fill="none" stroke="#222" stroke-width="1.1" />
<circle cx="444.60" cy="318.90" r="1.00" fill="#111" stroke="none" stroke-width="1"/>
<circle cx="448.20" cy="318.90" r="1.00" fill="#111" stroke="none" stroke-width="1"/>
<circle cx="456.30" cy="316.20" r="2.55" fill="#fff" stroke="#d52c44" stroke-width="1.7"/>
<text x="461.50" y="318.50" font-size="6.4" text-anchor="start" fill="#1a1a1a"><tspan font-style="italic">Wnk1</tspan><tspan font-size="4.22" dy="-2.4">fl/+</tspan><tspan dy="2.4"> RCE</tspan></text>
<circle cx="456.30" cy="326.00" r="3.40" fill="#d52c44" stroke="none" stroke-width="1"/>
<text x="461.50" y="328.30" font-size="6.4" text-anchor="start" fill="#1a1a1a"><tspan font-style="italic">Wnk1</tspan><tspan font-size="4.22" dy="-2.4">fl/-</tspan><tspan dy="2.4"> RCE</tspan></text>
<circle cx="456.30" cy="339.00" r="2.55" fill="#fff" stroke="#000" stroke-width="1.7"/>
<text x="461.50" y="341.30" font-size="6.4" text-anchor="start" fill="#1a1a1a"><tspan font-style="italic">Wnk1</tspan><tspan font-size="4.22" dy="-2.4">fl/+</tspan><tspan dy="2.4"> RCE</tspan></text>
<circle cx="456.30" cy="348.80" r="3.40" fill="#000" stroke="none" stroke-width="1"/>
<text x="461.50" y="351.10" font-size="6.4" text-anchor="start" fill="#1a1a1a"><tspan font-style="italic">Wnk1</tspan><tspan font-size="4.22" dy="-2.4">fl/-</tspan><tspan dy="2.4"> RCE</tspan></text>
<line x1="501.90" y1="313.50" x2="501.90" y2="328.90" stroke="#333" stroke-width="1.2" />
<line x1="501.90" y1="336.00" x2="501.90" y2="351.00" stroke="#333" stroke-width="1.2" />
<text x="505.20" y="323.50" font-size="6.4" text-anchor="start" fill="#1a1a1a" >Eα</text>
<text x="505.20" y="342.00" font-size="6.4" text-anchor="start" fill="#1a1a1a" >No</text>
<text x="505.20" y="350.00" font-size="6.4" text-anchor="start" fill="#1a1a1a" >Eα</text>
</svg>
</body></html>
